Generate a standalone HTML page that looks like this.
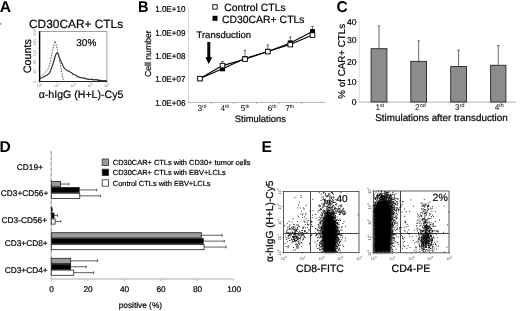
<!DOCTYPE html>
<html><head><meta charset="utf-8"><style>
html,body{margin:0;padding:0;background:#fff;}
body{width:520px;height:311px;overflow:hidden;}
svg{display:block;font-family:"Liberation Sans", sans-serif;filter:grayscale(1);text-rendering:geometricPrecision;}
</style></head><body>
<svg width="520" height="311" viewBox="0 0 520 311">
<defs><filter id="bl" x="-5%" y="-5%" width="110%" height="110%"><feGaussianBlur stdDeviation="0.35"/></filter><filter id="bl2" x="-30%" y="-10%" width="160%" height="120%"><feGaussianBlur stdDeviation="0.9"/></filter></defs>
<rect width="520" height="311" fill="#fff"/>
<text x="-0.3" y="12.35" font-size="15.6" text-anchor="start" font-weight="bold" fill="#000" stroke="#000" stroke-width="0" >A</text>
<text x="138.0" y="11.9" font-size="15.6" text-anchor="start" font-weight="bold" fill="#000" stroke="#000" stroke-width="0" textLength="10.5" lengthAdjust="spacingAndGlyphs">B</text>
<text x="336.6" y="12.3" font-size="15.6" text-anchor="start" font-weight="bold" fill="#000" stroke="#000" stroke-width="0" >C</text>
<text x="-0.5" y="151.5" font-size="15.6" text-anchor="start" font-weight="bold" fill="#000" stroke="#000" stroke-width="0" >D</text>
<text x="261.6" y="151.5" font-size="15.6" text-anchor="start" font-weight="bold" fill="#000" stroke="#000" stroke-width="0" >E</text>
<circle cx="0.6" cy="23.8" r="1.1" fill="#aaa"/>
<text x="29" y="27.6" font-size="11.9" text-anchor="start" font-weight="normal" fill="#000" stroke="#000" stroke-width="0.2" >CD30CAR+ CTLs</text>
<rect x="39.6" y="31.6" width="67.3" height="49.9" fill="none" stroke="#8a8a8a" stroke-width="0.8"/>
<line x1="39.6" y1="31.2" x2="39.6" y2="81.8" stroke="#000" stroke-width="1.4" />
<line x1="39.2" y1="81.5" x2="107" y2="81.5" stroke="#222" stroke-width="1" />
<text transform="translate(36.3,81.8) rotate(-90)" font-size="3.6" text-anchor="middle" fill="#777">0</text>
<line x1="38.2" y1="81.8" x2="39.6" y2="81.8" stroke="#777" stroke-width="0.6" />
<text transform="translate(36.3,71.5) rotate(-90)" font-size="3.6" text-anchor="middle" fill="#777">40</text>
<line x1="38.2" y1="71.5" x2="39.6" y2="71.5" stroke="#777" stroke-width="0.6" />
<text transform="translate(36.3,61.9) rotate(-90)" font-size="3.6" text-anchor="middle" fill="#777">80</text>
<line x1="38.2" y1="61.9" x2="39.6" y2="61.9" stroke="#777" stroke-width="0.6" />
<text transform="translate(36.3,53.2) rotate(-90)" font-size="3.6" text-anchor="middle" fill="#777">120</text>
<line x1="38.2" y1="53.2" x2="39.6" y2="53.2" stroke="#777" stroke-width="0.6" />
<text transform="translate(36.3,42.6) rotate(-90)" font-size="3.6" text-anchor="middle" fill="#777">160</text>
<line x1="38.2" y1="42.6" x2="39.6" y2="42.6" stroke="#777" stroke-width="0.6" />
<text transform="translate(36.3,32.4) rotate(-90)" font-size="3.6" text-anchor="middle" fill="#777">200</text>
<line x1="38.2" y1="32.4" x2="39.6" y2="32.4" stroke="#777" stroke-width="0.6" />
<line x1="39.6" y1="81.5" x2="39.6" y2="83" stroke="#777" stroke-width="0.6" />
<line x1="56.4" y1="81.5" x2="56.4" y2="83" stroke="#777" stroke-width="0.6" />
<line x1="73.2" y1="81.5" x2="73.2" y2="83" stroke="#777" stroke-width="0.6" />
<line x1="90" y1="81.5" x2="90" y2="83" stroke="#777" stroke-width="0.6" />
<line x1="106.8" y1="81.5" x2="106.8" y2="83" stroke="#777" stroke-width="0.6" />
<text x="39.6" y="86.8" font-size="3.6" text-anchor="middle" fill="#777">10<tspan font-size="2.6" dy="-1.4">0</tspan></text>
<text x="56.4" y="86.8" font-size="3.6" text-anchor="middle" fill="#777">10<tspan font-size="2.6" dy="-1.4">1</tspan></text>
<text x="73.2" y="86.8" font-size="3.6" text-anchor="middle" fill="#777">10<tspan font-size="2.6" dy="-1.4">2</tspan></text>
<text x="90" y="86.8" font-size="3.6" text-anchor="middle" fill="#777">10<tspan font-size="2.6" dy="-1.4">3</tspan></text>
<text x="106.8" y="86.8" font-size="3.6" text-anchor="middle" fill="#777">10<tspan font-size="2.6" dy="-1.4">4</tspan></text>
<text x="76.3" y="46" font-size="10" text-anchor="start" font-weight="normal" fill="#000" stroke="#000" stroke-width="0.2" >30%</text>
<text transform="translate(30.8,73.3) rotate(-90)" font-size="10.8" text-anchor="start" fill="#000" stroke="#000" stroke-width="0.2">Counts</text>
<text x="38.7" y="98" font-size="10.6" text-anchor="start" font-weight="normal" fill="#000" stroke="#000" stroke-width="0.2" >&#945;-hIgG (H+L)-Cy5</text>
<polyline points="39.80,78.80 40.90,77.99 42.00,77.80 43.00,77.25 44.00,76.60 45.00,75.94 46.00,75.60 47.00,75.07 48.00,74.30 49.50,72.80 51.00,69.50 52.50,65.50 54.00,60.50 55.50,55.50 56.50,53.00 57.30,52.80 58.20,54.50 59.30,57.50 60.60,60.60 62.00,63.50 63.40,66.80 64.60,68.60 66.00,69.60 67.00,70.40 68.00,70.90 69.25,71.08 70.50,72.30 71.60,72.45 72.70,74.17 73.80,74.50 74.87,74.71 75.93,75.18 77.00,76.00 78.00,76.99 79.00,76.76 80.00,77.60 81.00,77.60 82.00,77.77 83.00,78.17 84.00,77.78 85.00,78.56 86.00,78.60 87.00,79.20 88.00,78.95 89.00,79.37 90.00,79.45 91.00,79.40 92.00,78.98 93.00,79.91 94.00,79.81 95.00,79.56 96.00,79.90 97.00,79.42 98.00,80.50 99.00,80.11 100.00,80.48 101.00,80.30 101.97,80.80 102.93,80.66 103.90,80.96 104.87,80.37 105.83,80.91 106.80,80.60" fill="none" stroke="#2a2a2a" stroke-width="1.15" stroke-linejoin="round"/>
<polyline points="39.8,76.5 42,75.3 44,73.6 46,71.5 48.3,68.5 49.8,63.5 51.2,57 52.6,50.5 54,44.5 55.1,41.1 56.2,44.5 57.5,50.5 59,57 60.2,63.5 61.2,69 62.3,74.5 63.3,80.5" fill="none" stroke="#444" stroke-width="0.9" stroke-dasharray="1.5,1.2"/>
<rect x="212.8" y="4.7" width="4.4" height="4.4" fill="#fff" stroke="#000" stroke-width="0.9"/>
<text x="224.2" y="11.1" font-size="10.45" text-anchor="start" font-weight="normal" fill="#000" stroke="#000" stroke-width="0.2" >Control CTLs</text>
<rect x="212.5" y="15.8" width="5" height="5" fill="#000" stroke="none" stroke-width="1"/>
<text x="221.9" y="22.5" font-size="10.45" text-anchor="start" font-weight="normal" fill="#000" stroke="#000" stroke-width="0.2" >CD30CAR+ CTLs</text>
<text x="185.4" y="12.1" font-size="8.5" text-anchor="end" font-weight="normal" fill="#000" stroke="#000" stroke-width="0.2" textLength="30.2" lengthAdjust="spacingAndGlyphs">1.0E+10</text>
<text x="185.4" y="35.6" font-size="8.5" text-anchor="end" font-weight="normal" fill="#000" stroke="#000" stroke-width="0.2" textLength="30.2" lengthAdjust="spacingAndGlyphs">1.0E+09</text>
<text x="185.4" y="59.3" font-size="8.5" text-anchor="end" font-weight="normal" fill="#000" stroke="#000" stroke-width="0.2" textLength="30.2" lengthAdjust="spacingAndGlyphs">1.0E+08</text>
<text x="185.4" y="81.7" font-size="8.5" text-anchor="end" font-weight="normal" fill="#000" stroke="#000" stroke-width="0.2" textLength="30.2" lengthAdjust="spacingAndGlyphs">1.0E+07</text>
<text x="185.4" y="106.1" font-size="8.5" text-anchor="end" font-weight="normal" fill="#000" stroke="#000" stroke-width="0.2" textLength="30.2" lengthAdjust="spacingAndGlyphs">1.0E+06</text>
<line x1="188.6" y1="7.5" x2="188.6" y2="102.4" stroke="#d6d6d6" stroke-width="1" />
<line x1="188.1" y1="102.4" x2="325" y2="102.4" stroke="#b0b0b0" stroke-width="1" />
<line x1="187" y1="8.0" x2="188.6" y2="8.0" stroke="#ddd" stroke-width="0.8" />
<line x1="187" y1="31.6" x2="188.6" y2="31.6" stroke="#ddd" stroke-width="0.8" />
<line x1="187" y1="55.2" x2="188.6" y2="55.2" stroke="#ddd" stroke-width="0.8" />
<line x1="187" y1="78.8" x2="188.6" y2="78.8" stroke="#ddd" stroke-width="0.8" />
<line x1="187" y1="102.4" x2="188.6" y2="102.4" stroke="#ddd" stroke-width="0.8" />
<line x1="211.2" y1="102.4" x2="211.2" y2="104" stroke="#aaa" stroke-width="0.8" />
<line x1="233.7" y1="102.4" x2="233.7" y2="104" stroke="#aaa" stroke-width="0.8" />
<line x1="256.4" y1="102.4" x2="256.4" y2="104" stroke="#aaa" stroke-width="0.8" />
<line x1="279" y1="102.4" x2="279" y2="104" stroke="#aaa" stroke-width="0.8" />
<line x1="301.4" y1="102.4" x2="301.4" y2="104" stroke="#aaa" stroke-width="0.8" />
<line x1="222.5" y1="65.6" x2="222.5" y2="61.5" stroke="#444" stroke-width="0.8" />
<line x1="221.2" y1="61.5" x2="223.8" y2="61.5" stroke="#444" stroke-width="0.8" />
<line x1="245" y1="58.6" x2="245" y2="50.4" stroke="#444" stroke-width="0.8" />
<line x1="243.7" y1="50.4" x2="246.3" y2="50.4" stroke="#444" stroke-width="0.8" />
<line x1="267.8" y1="51.4" x2="267.8" y2="45" stroke="#444" stroke-width="0.8" />
<line x1="266.5" y1="45" x2="269.1" y2="45" stroke="#444" stroke-width="0.8" />
<line x1="290.3" y1="42.9" x2="290.3" y2="37" stroke="#444" stroke-width="0.8" />
<line x1="289.0" y1="37" x2="291.6" y2="37" stroke="#444" stroke-width="0.8" />
<line x1="312.5" y1="31.6" x2="312.5" y2="26.4" stroke="#444" stroke-width="0.8" />
<line x1="311.2" y1="26.4" x2="313.8" y2="26.4" stroke="#444" stroke-width="0.8" />
<polyline points="200,78.6 222.5,68.8 245,58.6 267.8,51.4 290.3,42.9 312.5,31.6" fill="none" stroke="#000" stroke-width="1.1"/>
<polyline points="200,78.6 222.5,65.6 245,59.2 267.8,51.6 290.3,44.6 312.5,35.1" fill="none" stroke="#000" stroke-width="1.1"/>
<rect x="197.5" y="76.1" width="5" height="5" fill="#000" stroke="none" stroke-width="1"/>
<rect x="220.0" y="66.3" width="5" height="5" fill="#000" stroke="none" stroke-width="1"/>
<rect x="242.5" y="56.1" width="5" height="5" fill="#000" stroke="none" stroke-width="1"/>
<rect x="265.3" y="48.9" width="5" height="5" fill="#000" stroke="none" stroke-width="1"/>
<rect x="287.8" y="40.4" width="5" height="5" fill="#000" stroke="none" stroke-width="1"/>
<rect x="310.0" y="29.1" width="5" height="5" fill="#000" stroke="none" stroke-width="1"/>
<rect x="197.7" y="76.3" width="4.6" height="4.6" fill="#fff" stroke="#000" stroke-width="0.9"/>
<rect x="220.2" y="63.3" width="4.6" height="4.6" fill="#fff" stroke="#000" stroke-width="0.9"/>
<rect x="242.7" y="56.900000000000006" width="4.6" height="4.6" fill="#fff" stroke="#000" stroke-width="0.9"/>
<rect x="265.5" y="49.300000000000004" width="4.6" height="4.6" fill="#fff" stroke="#000" stroke-width="0.9"/>
<rect x="288.0" y="42.300000000000004" width="4.6" height="4.6" fill="#fff" stroke="#000" stroke-width="0.9"/>
<rect x="310.2" y="32.800000000000004" width="4.6" height="4.6" fill="#fff" stroke="#000" stroke-width="0.9"/>
<polygon points="207.3,42 210.3,42 210.3,57.3 212.2,57.3 208.8,64 205.4,57.3 207.3,57.3" fill="#000"/>
<text x="196.5" y="38.1" font-size="9.5" text-anchor="start" font-weight="normal" fill="#000" stroke="#000" stroke-width="0.2" >Transduction</text>
<text x="197.5" y="110.9" font-size="8.3" fill="#000">3<tspan font-size="5" dy="-3">rd</tspan></text>
<text x="220.6" y="110.9" font-size="8.3" fill="#000">4<tspan font-size="5" dy="-3">th</tspan></text>
<text x="240.8" y="110.9" font-size="8.3" fill="#000">5<tspan font-size="5" dy="-3">th</tspan></text>
<text x="267.7" y="110.9" font-size="8.3" fill="#000">6<tspan font-size="5" dy="-3">th</tspan></text>
<text x="285.2" y="110.9" font-size="8.3" fill="#000">7<tspan font-size="5" dy="-3">th</tspan></text>
<text x="234.8" y="122" font-size="9.4" text-anchor="start" font-weight="normal" fill="#000" stroke="#000" stroke-width="0.2" >Stimulations</text>
<text transform="translate(150.6,77.1) rotate(-90)" font-size="8.7" text-anchor="start" fill="#000" stroke="#000" stroke-width="0.2">Cell number</text>
<line x1="359.3" y1="21.5" x2="359.3" y2="102" stroke="#dcdcdc" stroke-width="1" />
<line x1="358.7" y1="102.1" x2="516" y2="102.1" stroke="#b4b4b4" stroke-width="1" />
<text x="356.6" y="104.8" font-size="8.6" text-anchor="end" font-weight="normal" fill="#000" stroke="#000" stroke-width="0.2" >0</text>
<line x1="357.6" y1="101.8" x2="359.3" y2="101.8" stroke="#ccc" stroke-width="0.8" />
<text x="356.6" y="84.8" font-size="8.6" text-anchor="end" font-weight="normal" fill="#000" stroke="#000" stroke-width="0.2" >10</text>
<line x1="357.6" y1="81.8" x2="359.3" y2="81.8" stroke="#ccc" stroke-width="0.8" />
<text x="356.6" y="64.8" font-size="8.6" text-anchor="end" font-weight="normal" fill="#000" stroke="#000" stroke-width="0.2" >20</text>
<line x1="357.6" y1="61.8" x2="359.3" y2="61.8" stroke="#ccc" stroke-width="0.8" />
<text x="356.6" y="43.3" font-size="8.6" text-anchor="end" font-weight="normal" fill="#000" stroke="#000" stroke-width="0.2" >30</text>
<line x1="357.6" y1="41.8" x2="359.3" y2="41.8" stroke="#ccc" stroke-width="0.8" />
<text x="356.6" y="24.799999999999997" font-size="8.6" text-anchor="end" font-weight="normal" fill="#000" stroke="#000" stroke-width="0.2" >40</text>
<line x1="357.6" y1="21.799999999999997" x2="359.3" y2="21.799999999999997" stroke="#ccc" stroke-width="0.8" />
<line x1="379.0" y1="48.2" x2="379.0" y2="26" stroke="#444" stroke-width="0.8" />
<line x1="377.8" y1="26" x2="380.2" y2="26" stroke="#444" stroke-width="0.8" />
<rect x="371.1" y="48.7" width="15.799999999999955" height="53.3" fill="#8c8c8c" stroke="#333" stroke-width="1"/>
<line x1="418.65" y1="60.9" x2="418.65" y2="40.8" stroke="#444" stroke-width="0.8" />
<line x1="417.45" y1="40.8" x2="419.84999999999997" y2="40.8" stroke="#444" stroke-width="0.8" />
<rect x="410.8" y="61.4" width="15.699999999999989" height="40.6" fill="#8c8c8c" stroke="#333" stroke-width="1"/>
<line x1="458.6" y1="66" x2="458.6" y2="50.1" stroke="#444" stroke-width="0.8" />
<line x1="457.40000000000003" y1="50.1" x2="459.8" y2="50.1" stroke="#444" stroke-width="0.8" />
<rect x="450.7" y="66.5" width="15.800000000000011" height="35.5" fill="#8c8c8c" stroke="#333" stroke-width="1"/>
<line x1="498.25" y1="64.8" x2="498.25" y2="45.5" stroke="#444" stroke-width="0.8" />
<line x1="497.05" y1="45.5" x2="499.45" y2="45.5" stroke="#444" stroke-width="0.8" />
<rect x="490.6" y="65.3" width="15.299999999999955" height="36.7" fill="#8c8c8c" stroke="#333" stroke-width="1"/>
<text x="375.4" y="110.3" font-size="8.3" fill="#000">1<tspan font-size="5.4" dy="-3.1">st</tspan></text>
<text x="415.04999999999995" y="110.3" font-size="8.3" fill="#000">2<tspan font-size="5.4" dy="-3.1">nd</tspan></text>
<text x="455.0" y="110.3" font-size="8.3" fill="#000">3<tspan font-size="5.4" dy="-3.1">rd</tspan></text>
<text x="494.65" y="110.3" font-size="8.3" fill="#000">4<tspan font-size="5.4" dy="-3.1">th</tspan></text>
<text x="375.3" y="120.8" font-size="9.86" text-anchor="start" font-weight="normal" fill="#000" stroke="#000" stroke-width="0.2" >Stimulations after transduction</text>
<text transform="translate(345.2,98.7) rotate(-90)" font-size="9.8" text-anchor="start" fill="#000" stroke="#000" stroke-width="0.2">% of CAR+ CTLs</text>
<line x1="51.2" y1="151" x2="51.2" y2="279" stroke="#d0d0d0" stroke-width="1" />
<line x1="51.2" y1="151" x2="51.2" y2="279" stroke="#999" stroke-width="1" stroke-dasharray="3.5,2"/>
<line x1="51.3" y1="279" x2="233.5" y2="279" stroke="#aaa" stroke-width="1" />
<line x1="51.3" y1="279" x2="51.3" y2="281" stroke="#aaa" stroke-width="0.8" />
<text x="51.599999999999994" y="292" font-size="8.3" text-anchor="middle" font-weight="normal" fill="#000" stroke="#000" stroke-width="0.2" >0</text>
<line x1="87.8" y1="279" x2="87.8" y2="281" stroke="#aaa" stroke-width="0.8" />
<text x="88.1" y="292" font-size="8.3" text-anchor="middle" font-weight="normal" fill="#000" stroke="#000" stroke-width="0.2" >20</text>
<line x1="124.3" y1="279" x2="124.3" y2="281" stroke="#aaa" stroke-width="0.8" />
<text x="124.6" y="292" font-size="8.3" text-anchor="middle" font-weight="normal" fill="#000" stroke="#000" stroke-width="0.2" >40</text>
<line x1="160.8" y1="279" x2="160.8" y2="281" stroke="#aaa" stroke-width="0.8" />
<text x="161.10000000000002" y="292" font-size="8.3" text-anchor="middle" font-weight="normal" fill="#000" stroke="#000" stroke-width="0.2" >60</text>
<line x1="197.3" y1="279" x2="197.3" y2="281" stroke="#aaa" stroke-width="0.8" />
<text x="197.60000000000002" y="292" font-size="8.3" text-anchor="middle" font-weight="normal" fill="#000" stroke="#000" stroke-width="0.2" >80</text>
<line x1="233.8" y1="279" x2="233.8" y2="281" stroke="#aaa" stroke-width="0.8" />
<text x="234.10000000000002" y="292" font-size="8.3" text-anchor="middle" font-weight="normal" fill="#000" stroke="#000" stroke-width="0.2" >100</text>
<text x="118.7" y="307.7" font-size="8.3" text-anchor="start" font-weight="normal" fill="#000" stroke="#000" stroke-width="0.2" >positive (%)</text>
<line x1="60.607499999999995" y1="184.04999999999998" x2="68.82" y2="184.04999999999998" stroke="#333" stroke-width="0.8" />
<line x1="68.82" y1="182.74999999999997" x2="68.82" y2="185.35" stroke="#333" stroke-width="0.8" />
<rect x="51.3" y="181.5" width="9.307499999999997" height="5.2" fill="#9a9a9a" stroke="#222" stroke-width="0.8"/>
<line x1="79.2225" y1="189.95" x2="96.74249999999999" y2="189.95" stroke="#333" stroke-width="0.8" />
<line x1="96.74249999999999" y1="188.64999999999998" x2="96.74249999999999" y2="191.25" stroke="#333" stroke-width="0.8" />
<rect x="51.3" y="187.4" width="27.9225" height="5.2" fill="#000" stroke="#222" stroke-width="0.8"/>
<line x1="79.77" y1="195.85" x2="100.39249999999998" y2="195.85" stroke="#333" stroke-width="0.8" />
<line x1="100.39249999999998" y1="194.54999999999998" x2="100.39249999999998" y2="197.15" stroke="#333" stroke-width="0.8" />
<rect x="51.3" y="193.3" width="28.47" height="5.2" fill="#fff" stroke="#222" stroke-width="0.8"/>
<line x1="51.8475" y1="209.64999999999998" x2="52.394999999999996" y2="209.64999999999998" stroke="#333" stroke-width="0.8" />
<line x1="52.394999999999996" y1="208.34999999999997" x2="52.394999999999996" y2="210.95" stroke="#333" stroke-width="0.8" />
<rect x="51.3" y="207.1" width="0.5474999999999994" height="5.2" fill="#9a9a9a" stroke="#222" stroke-width="0.8"/>
<line x1="54.037499999999994" y1="215.54999999999998" x2="57.504999999999995" y2="215.54999999999998" stroke="#333" stroke-width="0.8" />
<line x1="57.504999999999995" y1="214.24999999999997" x2="57.504999999999995" y2="216.85" stroke="#333" stroke-width="0.8" />
<rect x="51.3" y="213.0" width="2.737499999999997" height="5.2" fill="#000" stroke="#222" stroke-width="0.8"/>
<line x1="55.1325" y1="221.45" x2="60.79" y2="221.45" stroke="#333" stroke-width="0.8" />
<line x1="60.79" y1="220.14999999999998" x2="60.79" y2="222.75" stroke="#333" stroke-width="0.8" />
<rect x="51.3" y="218.9" width="3.832500000000003" height="5.2" fill="#fff" stroke="#222" stroke-width="0.8"/>
<line x1="201.315" y1="235.25" x2="222.12" y2="235.25" stroke="#333" stroke-width="0.8" />
<line x1="222.12" y1="233.95" x2="222.12" y2="236.55" stroke="#333" stroke-width="0.8" />
<rect x="51.3" y="232.70000000000002" width="150.015" height="5.2" fill="#9a9a9a" stroke="#222" stroke-width="0.8"/>
<line x1="203.3225" y1="241.15" x2="224.31" y2="241.15" stroke="#333" stroke-width="0.8" />
<line x1="224.31" y1="239.85" x2="224.31" y2="242.45000000000002" stroke="#333" stroke-width="0.8" />
<rect x="51.3" y="238.60000000000002" width="152.02249999999998" height="5.2" fill="#000" stroke="#222" stroke-width="0.8"/>
<line x1="204.0525" y1="247.05" x2="226.135" y2="247.05" stroke="#333" stroke-width="0.8" />
<line x1="226.135" y1="245.75" x2="226.135" y2="248.35000000000002" stroke="#333" stroke-width="0.8" />
<rect x="51.3" y="244.50000000000003" width="152.7525" height="5.2" fill="#fff" stroke="#222" stroke-width="0.8"/>
<line x1="70.645" y1="260.84999999999997" x2="97.4725" y2="260.84999999999997" stroke="#333" stroke-width="0.8" />
<line x1="97.4725" y1="259.54999999999995" x2="97.4725" y2="262.15" stroke="#333" stroke-width="0.8" />
<rect x="51.3" y="258.29999999999995" width="19.345" height="5.2" fill="#9a9a9a" stroke="#222" stroke-width="0.8"/>
<line x1="70.645" y1="266.74999999999994" x2="86.1575" y2="266.74999999999994" stroke="#333" stroke-width="0.8" />
<line x1="86.1575" y1="265.44999999999993" x2="86.1575" y2="268.04999999999995" stroke="#333" stroke-width="0.8" />
<rect x="51.3" y="264.19999999999993" width="19.345" height="5.2" fill="#000" stroke="#222" stroke-width="0.8"/>
<line x1="73.7475" y1="272.65" x2="93.63999999999999" y2="272.65" stroke="#333" stroke-width="0.8" />
<line x1="93.63999999999999" y1="271.34999999999997" x2="93.63999999999999" y2="273.95" stroke="#333" stroke-width="0.8" />
<rect x="51.3" y="270.09999999999997" width="22.447500000000005" height="5.2" fill="#fff" stroke="#222" stroke-width="0.8"/>
<text x="42.9" y="170.1" font-size="8.3" text-anchor="end" font-weight="normal" fill="#000" stroke="#000" stroke-width="0.2" >CD19+</text>
<text x="48.3" y="195.7" font-size="8.3" text-anchor="end" font-weight="normal" fill="#000" stroke="#000" stroke-width="0.2" >CD3+CD56+</text>
<text x="47" y="223.4" font-size="8.3" text-anchor="end" font-weight="normal" fill="#000" stroke="#000" stroke-width="0.2" >CD3-CD56+</text>
<text x="47.6" y="245.5" font-size="8.3" text-anchor="end" font-weight="normal" fill="#000" stroke="#000" stroke-width="0.2" >CD3+CD8+</text>
<text x="47.6" y="272.9" font-size="8.3" text-anchor="end" font-weight="normal" fill="#000" stroke="#000" stroke-width="0.2" >CD3+CD4+</text>
<rect x="102.2" y="159.0" width="6.4" height="6.4" fill="#9a9a9a" stroke="#333" stroke-width="0.8"/>
<text x="112.8" y="164.89999999999998" font-size="7.45" text-anchor="start" font-weight="normal" fill="#000" stroke="#000" stroke-width="0.2" >CD30CAR+ CTLs with CD30+ tumor cells</text>
<rect x="102.2" y="169.20000000000002" width="6.4" height="6.4" fill="#000" stroke="#333" stroke-width="0.8"/>
<text x="112.8" y="175.1" font-size="7.45" text-anchor="start" font-weight="normal" fill="#000" stroke="#000" stroke-width="0.2" >CD30CAR+ CTLs with EBV+LCLs</text>
<rect x="102.2" y="179.8" width="6.4" height="6.4" fill="#fff" stroke="#333" stroke-width="0.8"/>
<text x="112.8" y="185.7" font-size="7.45" text-anchor="start" font-weight="normal" fill="#000" stroke="#000" stroke-width="0.2" >Control CTLs with EBV+LCLs</text>
<line x1="310.5" y1="191.5" x2="310.5" y2="252.5" stroke="#333" stroke-width="0.9" />
<line x1="283.5" y1="233.5" x2="359" y2="233.5" stroke="#333" stroke-width="0.9" />
<line x1="400.5" y1="191" x2="400.5" y2="252.8" stroke="#333" stroke-width="0.9" />
<line x1="373.5" y1="233.5" x2="449" y2="233.5" stroke="#333" stroke-width="0.9" />
<path filter="url(#bl2)" d="M329,210.5 C332.5,211.5 335,218 336.2,226 C337,234 336.3,245 335.5,252.5 L323.5,252.5 C322.5,245 321.8,234 322.3,226 C323.2,218 325.5,211.5 329,210.5 Z" fill="#000"/>
<path d="M328.0 239.6h0.9M328.1 230.5h0.9M324.5 231.7h0.9M335.1 238.7h0.9M334.7 236.7h0.9M331.4 236.0h0.9M320.6 243.4h0.9M331.9 239.5h0.9M320.5 214.8h0.9M324.7 228.8h0.9M330.9 233.5h0.9M332.0 226.9h0.9M330.9 238.3h0.9M332.2 247.2h0.9M326.1 225.9h0.9M327.5 232.8h0.9M332.6 236.7h0.9M327.0 223.5h0.9M326.6 247.4h0.9M325.1 236.7h0.9M331.5 217.6h0.9M329.6 248.4h0.9M318.8 230.5h0.9M328.7 225.0h0.9M331.9 233.3h0.9M321.7 243.1h0.9M332.8 244.4h0.9M336.8 238.0h0.9M329.9 219.7h0.9M332.5 227.3h0.9M326.9 220.1h0.9M324.3 228.2h0.9M336.0 211.7h0.9M321.7 236.6h0.9M336.8 240.4h0.9M319.4 206.3h0.9M331.2 225.9h0.9M323.5 244.8h0.9M335.0 235.7h0.9M330.6 238.8h0.9M337.6 240.8h0.9M332.0 240.0h0.9M321.1 248.1h0.9M334.3 239.8h0.9M319.0 227.0h0.9M333.7 214.1h0.9M328.3 245.2h0.9M322.5 251.7h0.9M332.2 232.3h0.9M331.0 241.1h0.9M329.9 246.6h0.9M325.9 229.4h0.9M334.7 234.3h0.9M324.7 244.4h0.9M336.9 229.1h0.9M322.1 232.5h0.9M328.5 230.7h0.9M336.6 222.7h0.9M335.9 220.0h0.9M325.2 240.9h0.9M335.2 243.4h0.9M331.1 235.6h0.9M330.1 240.3h0.9M328.4 237.1h0.9M332.3 234.0h0.9M333.3 240.2h0.9M339.8 237.6h0.9M327.1 229.9h0.9M329.2 244.2h0.9M327.5 238.2h0.9M338.9 205.8h0.9M323.5 236.7h0.9M331.4 236.6h0.9M327.1 241.2h0.9M330.8 228.3h0.9M341.9 237.9h0.9M326.4 232.9h0.9M328.1 233.3h0.9M315.1 228.6h0.9M334.5 221.1h0.9M329.0 244.5h0.9M333.8 250.4h0.9M320.5 230.1h0.9M327.5 240.9h0.9M335.0 204.5h0.9M335.0 218.1h0.9M332.9 217.6h0.9M330.2 247.1h0.9M328.5 236.1h0.9M333.4 235.6h0.9M328.8 250.9h0.9M334.8 230.8h0.9M343.6 221.4h0.9M334.1 231.1h0.9M330.0 241.8h0.9M330.5 241.0h0.9M321.4 217.4h0.9M332.5 223.4h0.9M324.0 217.8h0.9M335.9 242.2h0.9M337.0 223.7h0.9M329.3 221.5h0.9M333.3 251.5h0.9M324.7 251.2h0.9M334.4 232.0h0.9M319.0 249.5h0.9M328.8 227.4h0.9M331.4 238.5h0.9M337.1 222.8h0.9M335.2 250.4h0.9M336.9 232.0h0.9M325.4 245.2h0.9M329.9 235.4h0.9M336.7 231.1h0.9M317.4 229.7h0.9M319.7 243.0h0.9M330.9 227.3h0.9M329.3 243.2h0.9M329.7 248.6h0.9M329.0 245.4h0.9M337.1 251.7h0.9M325.8 243.7h0.9M319.5 222.1h0.9M319.1 245.8h0.9M322.9 233.9h0.9M328.3 233.7h0.9M326.2 236.6h0.9M338.6 234.5h0.9M332.1 245.0h0.9M328.3 220.1h0.9M326.4 245.8h0.9M320.7 227.4h0.9M334.5 242.7h0.9M329.3 242.9h0.9M330.2 221.0h0.9M321.2 227.0h0.9M334.1 227.8h0.9M324.6 225.5h0.9M321.3 232.7h0.9M323.2 238.0h0.9M317.0 237.6h0.9M326.0 212.6h0.9M333.1 231.0h0.9M317.7 224.4h0.9M330.8 229.0h0.9M333.4 242.2h0.9M332.8 237.6h0.9M336.2 241.3h0.9M331.6 211.1h0.9M334.0 248.4h0.9M327.8 228.8h0.9M339.4 214.7h0.9M324.5 241.6h0.9M339.1 232.7h0.9M332.2 243.9h0.9M324.6 233.0h0.9M330.8 243.1h0.9M329.1 231.9h0.9M324.0 230.1h0.9M333.9 235.1h0.9M324.9 224.7h0.9M343.2 246.5h0.9M332.6 205.5h0.9M332.5 239.3h0.9M338.1 238.7h0.9M328.9 239.7h0.9M319.2 245.4h0.9M331.0 226.3h0.9M322.0 226.7h0.9M330.8 236.0h0.9M327.2 223.3h0.9M340.3 245.4h0.9M323.1 219.2h0.9M338.2 244.9h0.9M338.8 242.9h0.9M324.8 236.9h0.9M318.1 225.8h0.9M329.0 239.8h0.9M325.5 232.6h0.9M331.7 238.1h0.9M332.6 236.3h0.9M327.6 242.7h0.9M329.6 224.9h0.9M326.0 234.0h0.9M328.7 235.7h0.9M329.3 235.9h0.9M328.6 220.2h0.9M331.5 245.6h0.9M331.6 231.9h0.9M331.6 223.4h0.9M319.4 234.7h0.9M324.5 242.1h0.9M323.7 205.1h0.9M323.9 251.4h0.9M327.3 218.9h0.9M325.3 239.7h0.9M331.9 235.9h0.9M337.0 241.8h0.9M329.2 240.6h0.9M337.9 244.7h0.9M334.6 222.1h0.9M328.5 242.0h0.9M327.8 245.8h0.9M332.4 244.0h0.9M335.7 231.6h0.9M327.5 243.6h0.9M334.4 234.1h0.9M323.2 236.1h0.9M331.2 246.4h0.9M333.4 234.3h0.9M333.7 239.9h0.9M330.4 234.6h0.9M328.0 241.5h0.9M323.8 227.1h0.9M329.3 217.9h0.9M327.0 211.9h0.9M325.7 240.3h0.9M332.2 233.4h0.9M328.1 218.4h0.9M338.8 239.7h0.9M335.0 224.3h0.9M328.3 214.0h0.9M333.4 244.3h0.9M319.4 233.4h0.9M332.6 214.6h0.9M319.8 222.3h0.9M326.0 218.6h0.9M329.5 236.7h0.9M332.6 241.7h0.9M337.1 246.8h0.9M322.5 228.4h0.9M323.8 222.2h0.9M328.9 234.1h0.9M331.8 216.5h0.9M322.9 233.7h0.9M328.3 230.6h0.9M329.0 225.6h0.9M332.9 237.9h0.9M328.8 226.6h0.9M328.4 204.1h0.9M324.2 234.4h0.9M321.5 236.2h0.9M330.1 218.8h0.9M328.0 230.5h0.9M331.7 240.7h0.9M329.1 224.6h0.9M328.5 233.3h0.9M333.1 237.2h0.9M325.5 219.1h0.9M327.4 225.9h0.9M323.5 232.7h0.9M326.7 235.2h0.9M332.0 229.5h0.9M341.4 230.5h0.9M335.0 235.3h0.9M335.1 207.9h0.9M325.4 236.7h0.9M331.0 248.1h0.9M333.3 244.4h0.9M332.0 232.3h0.9M331.9 222.1h0.9M335.4 222.8h0.9M328.1 234.2h0.9M335.3 234.3h0.9M325.1 236.8h0.9M332.3 241.8h0.9M338.0 234.2h0.9M330.7 229.3h0.9M336.7 226.2h0.9M332.8 228.7h0.9M325.7 241.9h0.9M336.2 233.9h0.9M325.8 242.9h0.9M329.0 237.4h0.9M337.2 246.4h0.9M329.3 242.6h0.9M325.9 233.5h0.9M336.4 220.6h0.9M321.5 216.2h0.9M335.4 228.9h0.9M329.0 230.6h0.9M328.7 222.0h0.9M329.4 218.2h0.9M328.9 237.4h0.9M331.7 231.5h0.9M324.6 235.8h0.9M326.8 251.2h0.9M333.3 232.7h0.9M326.9 226.3h0.9M324.4 230.1h0.9M330.8 239.7h0.9M325.6 234.1h0.9M343.8 213.5h0.9M326.6 235.9h0.9M330.1 238.5h0.9M328.1 238.0h0.9M329.6 242.5h0.9M319.5 224.3h0.9M329.3 222.6h0.9M323.9 240.9h0.9M325.9 241.0h0.9M333.2 237.4h0.9M331.9 232.8h0.9M322.0 233.7h0.9M331.7 228.2h0.9M328.8 242.2h0.9M324.7 241.0h0.9M339.0 227.9h0.9M330.1 232.3h0.9M337.3 237.5h0.9M334.0 226.4h0.9M329.2 233.9h0.9M320.1 249.8h0.9M334.0 214.8h0.9M333.2 232.6h0.9M331.6 238.0h0.9M321.5 231.7h0.9M337.1 227.7h0.9M324.0 219.0h0.9M323.0 237.7h0.9M338.1 238.7h0.9M326.6 226.6h0.9M332.0 240.0h0.9M324.0 221.1h0.9M330.8 236.7h0.9M322.5 231.8h0.9M326.5 239.1h0.9M328.7 233.1h0.9M327.5 245.6h0.9M336.5 230.0h0.9M333.7 225.7h0.9M329.7 242.2h0.9M337.2 229.8h0.9M328.9 236.2h0.9M321.5 234.2h0.9M325.8 238.1h0.9M323.4 212.3h0.9M329.5 236.9h0.9M326.4 243.8h0.9M327.9 227.3h0.9M331.8 216.7h0.9M325.8 233.8h0.9M333.7 232.2h0.9M330.9 226.8h0.9M330.9 252.3h0.9M326.0 234.2h0.9M330.2 245.3h0.9M322.9 210.9h0.9M332.5 242.7h0.9M330.4 236.8h0.9M334.1 238.1h0.9M338.0 220.4h0.9M327.3 196.1h0.9M333.5 229.9h0.9M329.3 231.2h0.9M326.7 224.8h0.9M326.0 241.0h0.9M329.5 234.7h0.9M328.4 244.1h0.9M331.9 232.4h0.9M332.8 232.3h0.9M323.3 250.0h0.9M331.7 223.5h0.9M334.9 237.8h0.9M321.2 251.7h0.9M331.0 243.8h0.9M330.3 232.4h0.9M321.2 244.7h0.9M329.5 230.8h0.9M331.1 234.9h0.9M332.8 229.9h0.9M329.1 210.5h0.9M327.1 241.4h0.9M336.3 230.0h0.9M328.7 251.4h0.9M327.6 242.1h0.9M338.0 234.4h0.9M335.7 226.2h0.9M330.4 233.1h0.9M329.9 246.4h0.9M341.7 226.7h0.9M326.3 239.5h0.9M323.8 239.5h0.9M332.3 230.9h0.9M332.1 217.0h0.9M333.3 217.0h0.9M325.7 227.9h0.9M327.2 243.4h0.9M329.7 229.6h0.9M332.1 251.4h0.9M329.3 238.0h0.9M335.7 236.9h0.9M340.8 212.2h0.9M329.1 238.6h0.9M334.3 241.4h0.9M327.9 222.4h0.9M329.8 245.4h0.9M323.6 222.7h0.9M329.2 212.7h0.9M327.9 229.2h0.9M331.6 226.3h0.9M324.7 229.7h0.9M329.0 226.7h0.9M329.4 242.3h0.9M325.2 229.4h0.9M325.5 233.6h0.9M332.0 219.1h0.9M331.7 233.7h0.9M319.8 237.2h0.9M335.5 213.5h0.9M333.5 236.3h0.9M331.8 238.9h0.9M336.1 231.5h0.9M333.8 229.5h0.9M333.1 225.0h0.9M331.6 232.3h0.9M323.3 225.3h0.9M330.3 244.3h0.9M331.5 239.8h0.9M329.1 248.9h0.9M327.3 228.0h0.9M333.9 234.7h0.9M327.9 227.7h0.9M328.0 240.9h0.9M331.1 220.7h0.9M331.5 236.0h0.9M324.1 242.5h0.9M327.8 230.3h0.9M333.4 248.5h0.9M325.7 238.8h0.9M326.7 247.1h0.9M325.9 242.9h0.9M340.8 206.0h0.9M327.0 239.5h0.9M328.8 226.6h0.9M340.5 234.9h0.9M320.7 243.4h0.9M320.3 246.7h0.9M326.3 235.6h0.9M335.9 235.3h0.9M322.1 215.3h0.9M335.4 242.1h0.9M325.1 243.5h0.9M331.9 241.1h0.9M317.6 230.7h0.9M334.0 242.1h0.9M333.9 207.0h0.9M330.2 239.4h0.9M342.6 223.5h0.9M327.6 234.4h0.9M333.9 229.1h0.9M335.3 225.3h0.9M330.7 228.2h0.9M330.1 226.4h0.9M321.0 246.0h0.9M330.9 227.9h0.9M330.3 244.9h0.9M324.2 232.8h0.9M332.1 239.8h0.9M327.6 210.8h0.9M335.8 237.6h0.9M329.4 230.9h0.9M330.7 229.3h0.9M324.0 225.9h0.9M326.2 227.3h0.9M323.3 241.0h0.9M322.5 241.3h0.9M324.0 237.9h0.9M336.4 236.2h0.9M325.5 234.5h0.9M330.1 214.9h0.9M326.1 235.8h0.9M326.9 234.9h0.9M333.1 242.4h0.9M334.0 240.5h0.9M327.8 233.8h0.9M327.9 230.6h0.9M328.4 215.0h0.9M327.6 233.7h0.9M324.2 233.7h0.9M332.0 232.2h0.9M340.1 205.3h0.9M328.2 213.9h0.9M316.3 235.4h0.9M332.0 230.7h0.9M332.2 209.3h0.9M333.7 238.1h0.9M329.4 227.5h0.9M332.6 228.7h0.9M330.5 228.4h0.9M317.6 233.7h0.9M330.4 242.3h0.9M324.7 233.6h0.9M332.5 235.6h0.9M324.6 212.9h0.9M333.8 250.8h0.9M334.1 243.0h0.9M326.1 226.2h0.9M333.9 224.0h0.9M319.9 223.0h0.9M325.7 226.0h0.9M330.5 225.8h0.9M336.1 233.1h0.9M323.7 248.4h0.9M326.3 236.4h0.9M329.2 230.5h0.9M331.0 226.4h0.9M319.7 209.7h0.9M322.7 225.7h0.9M329.2 234.6h0.9M332.2 235.3h0.9M325.2 226.2h0.9M318.3 232.1h0.9M331.8 239.8h0.9M328.7 232.1h0.9M334.2 234.2h0.9M333.1 240.4h0.9M330.4 248.4h0.9M326.3 230.1h0.9M325.1 225.2h0.9M329.4 240.3h0.9M335.4 242.9h0.9M335.6 220.1h0.9M326.0 239.0h0.9M336.8 235.1h0.9M324.8 230.1h0.9M325.9 224.6h0.9M337.1 227.1h0.9M335.5 237.7h0.9M326.1 238.5h0.9M337.7 240.9h0.9M335.9 235.1h0.9M332.0 231.8h0.9M331.5 248.3h0.9M321.9 233.3h0.9M330.5 227.7h0.9M327.7 242.7h0.9M339.7 240.9h0.9M331.0 216.9h0.9M339.3 234.8h0.9M329.1 221.7h0.9M329.0 221.9h0.9M329.7 239.1h0.9M329.5 237.1h0.9M324.9 249.7h0.9M325.9 214.0h0.9M328.3 225.6h0.9M324.0 230.1h0.9M330.8 221.0h0.9M328.6 249.7h0.9M332.9 232.3h0.9M330.0 232.7h0.9M329.1 242.1h0.9M328.8 207.6h0.9M329.2 224.2h0.9M332.7 227.3h0.9M323.9 221.6h0.9M322.0 207.7h0.9M319.5 238.0h0.9M326.0 213.5h0.9M321.6 240.8h0.9M325.3 230.0h0.9M331.0 248.9h0.9M339.4 245.4h0.9M330.0 236.0h0.9M338.7 249.7h0.9M327.7 239.0h0.9M330.8 234.6h0.9M326.7 219.4h0.9M326.5 217.0h0.9M335.7 239.9h0.9M323.0 249.4h0.9M333.9 213.0h0.9M338.9 242.9h0.9M340.0 220.5h0.9M332.1 238.7h0.9M330.3 235.9h0.9M334.8 217.6h0.9M322.8 218.7h0.9M326.4 227.3h0.9M331.2 236.9h0.9M329.5 226.6h0.9M327.0 244.5h0.9M333.3 235.1h0.9M327.6 251.1h0.9M326.2 241.1h0.9M335.3 231.1h0.9M333.6 221.7h0.9M334.6 236.2h0.9M321.0 241.4h0.9M324.7 248.1h0.9M325.8 232.2h0.9M330.8 230.3h0.9M330.6 227.9h0.9M332.8 234.1h0.9M330.4 203.7h0.9M335.3 234.4h0.9M320.0 235.1h0.9M331.7 245.8h0.9M323.7 251.0h0.9M328.5 241.5h0.9M327.4 221.7h0.9M335.0 244.0h0.9M337.3 243.4h0.9M326.3 215.7h0.9M325.9 226.6h0.9M325.1 240.4h0.9M331.0 231.0h0.9M330.2 232.4h0.9M330.4 242.3h0.9M334.3 226.5h0.9M321.5 249.7h0.9M329.9 246.2h0.9M320.8 230.4h0.9M329.4 218.1h0.9M326.6 242.0h0.9M334.9 251.5h0.9M324.8 218.6h0.9M332.0 244.3h0.9M330.3 219.7h0.9M333.4 242.7h0.9M332.2 228.6h0.9M330.9 242.7h0.9M326.4 213.7h0.9M331.0 239.3h0.9M329.4 243.8h0.9M326.2 233.1h0.9M327.7 240.3h0.9M337.6 231.2h0.9M340.0 250.8h0.9M333.4 240.5h0.9M338.5 232.0h0.9M328.7 222.3h0.9M331.8 248.8h0.9M332.1 238.7h0.9M328.3 235.9h0.9M321.9 245.5h0.9M327.2 221.8h0.9M325.4 224.9h0.9M333.7 245.6h0.9M322.2 244.2h0.9M333.9 227.6h0.9M321.6 225.8h0.9M326.0 237.8h0.9M327.4 211.7h0.9M330.5 217.1h0.9M334.0 220.7h0.9M325.7 224.6h0.9M326.5 248.3h0.9M333.7 240.6h0.9M331.0 217.0h0.9M326.6 227.9h0.9M324.2 239.6h0.9M325.4 226.2h0.9M323.9 211.4h0.9M332.4 248.6h0.9M330.2 223.3h0.9M315.2 235.9h0.9M335.6 237.3h0.9M334.1 250.3h0.9M335.2 229.1h0.9M334.8 242.5h0.9M321.3 229.5h0.9M321.9 232.8h0.9M332.3 222.3h0.9M318.6 248.3h0.9M331.3 250.2h0.9M322.4 245.7h0.9M328.2 237.0h0.9M328.5 245.0h0.9M334.7 235.0h0.9M322.2 242.2h0.9M326.9 240.9h0.9M330.7 251.9h0.9M335.2 229.0h0.9M326.5 238.8h0.9M335.5 247.8h0.9M332.0 219.5h0.9M322.7 236.7h0.9M324.8 246.5h0.9M333.3 215.6h0.9M325.0 235.8h0.9M326.7 232.3h0.9M331.7 225.1h0.9M331.7 227.0h0.9M326.5 239.9h0.9M326.3 237.2h0.9M337.6 234.3h0.9M328.5 242.1h0.9M327.4 245.9h0.9M322.6 240.8h0.9M326.6 225.2h0.9M338.5 224.6h0.9M338.4 241.2h0.9M336.9 223.3h0.9M335.5 250.0h0.9M328.7 232.6h0.9M342.1 236.0h0.9M327.1 227.1h0.9M331.6 237.6h0.9M327.6 239.2h0.9M336.9 223.0h0.9M322.3 221.9h0.9M323.9 213.7h0.9M331.7 213.6h0.9M331.9 250.0h0.9M320.9 230.5h0.9M319.3 242.6h0.9M325.5 231.1h0.9M329.6 240.0h0.9M327.5 234.2h0.9M326.5 235.3h0.9M323.2 234.7h0.9M319.3 228.6h0.9M339.3 234.9h0.9M322.7 236.8h0.9M324.2 215.8h0.9M325.5 242.1h0.9M331.3 232.9h0.9M324.5 222.1h0.9M336.3 236.7h0.9M324.4 210.8h0.9M323.3 233.2h0.9M330.4 232.3h0.9M327.9 218.9h0.9M325.4 243.3h0.9M320.5 231.0h0.9M330.7 245.4h0.9M323.5 240.5h0.9M331.3 225.9h0.9M331.8 224.1h0.9M325.2 233.8h0.9M315.2 232.8h0.9M324.1 217.9h0.9M327.1 242.4h0.9M327.2 247.9h0.9M323.3 219.6h0.9M337.4 238.4h0.9M334.2 224.9h0.9M333.5 236.9h0.9M332.7 234.3h0.9M335.6 226.9h0.9M324.3 217.7h0.9M335.3 225.9h0.9M323.9 223.7h0.9M327.0 220.0h0.9M327.8 227.1h0.9M326.4 223.4h0.9M329.5 228.9h0.9M329.9 236.7h0.9M331.1 209.9h0.9M326.5 225.2h0.9M333.3 216.6h0.9M325.6 230.8h0.9M327.6 244.9h0.9M327.0 244.6h0.9M321.7 214.1h0.9M335.6 238.8h0.9M331.8 235.4h0.9M331.8 220.6h0.9M334.2 228.1h0.9M334.4 235.0h0.9M319.0 219.8h0.9M335.2 232.5h0.9M327.2 236.7h0.9M327.1 228.0h0.9M329.8 235.6h0.9M337.2 234.5h0.9M338.2 245.7h0.9M330.0 235.5h0.9M328.6 226.0h0.9M329.0 227.0h0.9M337.8 239.9h0.9M327.0 212.9h0.9M329.0 229.4h0.9M323.7 221.5h0.9M317.6 240.3h0.9M329.1 232.4h0.9M336.8 235.5h0.9M330.2 229.9h0.9M326.2 250.5h0.9M327.5 234.3h0.9M324.7 244.6h0.9M322.1 240.2h0.9M335.0 249.5h0.9M324.4 246.0h0.9M325.6 225.7h0.9M322.4 246.7h0.9M337.9 227.5h0.9M325.4 230.3h0.9M342.3 245.0h0.9M326.5 214.3h0.9M325.8 247.1h0.9M339.0 231.1h0.9M325.7 228.4h0.9M319.5 244.0h0.9M323.7 245.7h0.9M320.4 220.0h0.9M330.8 225.6h0.9M333.4 234.1h0.9M323.2 240.8h0.9M333.7 213.0h0.9M338.8 239.5h0.9M333.3 213.5h0.9M325.6 230.2h0.9M334.9 217.9h0.9M324.7 211.7h0.9M328.0 237.8h0.9M320.5 227.5h0.9M332.0 251.4h0.9M332.8 230.7h0.9M323.2 223.7h0.9M325.8 235.6h0.9M329.0 252.3h0.9M330.8 222.2h0.9M337.3 244.4h0.9M329.8 226.1h0.9M319.6 222.8h0.9M334.0 225.2h0.9M322.4 236.2h0.9M330.6 240.7h0.9M332.7 249.5h0.9M324.9 244.8h0.9M324.2 241.6h0.9M330.2 236.7h0.9M334.3 233.8h0.9M335.1 243.6h0.9M330.0 227.8h0.9M325.4 228.2h0.9M328.2 233.7h0.9M344.8 241.0h0.9M333.3 224.5h0.9M325.6 230.5h0.9M330.3 222.6h0.9M337.7 227.8h0.9M334.9 208.3h0.9M329.3 237.1h0.9M330.3 240.6h0.9M330.8 235.8h0.9M319.5 226.2h0.9M317.1 240.9h0.9M330.9 231.9h0.9M325.0 227.6h0.9M329.0 248.2h0.9M321.0 212.7h0.9M326.8 224.4h0.9M326.4 236.1h0.9M345.0 226.7h0.9M329.6 237.0h0.9M329.1 244.2h0.9M338.5 220.3h0.9M330.1 231.1h0.9M331.2 217.2h0.9M320.2 208.5h0.9M332.0 236.1h0.9M329.7 208.0h0.9M327.4 225.7h0.9M321.9 223.9h0.9M332.9 240.0h0.9M329.2 239.7h0.9M326.2 234.8h0.9M329.5 240.1h0.9M328.9 232.4h0.9M328.6 226.9h0.9M340.9 239.7h0.9M336.6 216.9h0.9M332.9 243.2h0.9M339.1 248.5h0.9M333.3 221.1h0.9M324.8 237.0h0.9M331.9 222.8h0.9M327.3 229.6h0.9M329.6 237.7h0.9M327.8 220.4h0.9M335.8 251.6h0.9M328.7 245.3h0.9M331.6 241.3h0.9M331.8 225.6h0.9M332.3 245.1h0.9M339.6 242.2h0.9M327.5 227.4h0.9M325.1 235.3h0.9M329.1 241.4h0.9M341.1 233.7h0.9M332.8 239.2h0.9M330.7 231.7h0.9M328.7 224.9h0.9M330.2 233.7h0.9M331.0 224.6h0.9M329.5 234.5h0.9M332.4 222.3h0.9M331.5 244.8h0.9M332.4 229.9h0.9M326.7 231.4h0.9M333.1 251.1h0.9M328.5 226.9h0.9M331.3 236.2h0.9M324.6 225.9h0.9M328.8 241.4h0.9M323.1 222.8h0.9M331.9 220.5h0.9M329.9 237.9h0.9M328.7 222.8h0.9M329.0 230.3h0.9M331.0 224.8h0.9M335.0 215.6h0.9M328.4 234.1h0.9M334.3 227.3h0.9M332.1 227.8h0.9M327.2 238.9h0.9M324.5 244.7h0.9M335.6 234.4h0.9M323.4 238.4h0.9M335.3 246.0h0.9M333.5 213.9h0.9M325.8 249.6h0.9M322.9 246.4h0.9M339.1 242.4h0.9M335.1 230.3h0.9M322.9 232.9h0.9M328.3 233.5h0.9M332.9 232.4h0.9M330.3 238.7h0.9M331.6 234.9h0.9M328.2 227.1h0.9M336.3 235.7h0.9M323.7 227.8h0.9M328.6 229.1h0.9M334.9 221.2h0.9M331.9 235.6h0.9M323.2 234.5h0.9M328.8 239.5h0.9M327.0 237.3h0.9M320.6 222.1h0.9M333.4 245.5h0.9M329.2 227.4h0.9M334.9 211.0h0.9M325.1 241.4h0.9M332.7 222.6h0.9M319.5 250.0h0.9M330.1 224.1h0.9M329.6 243.9h0.9M315.8 246.2h0.9M333.1 211.1h0.9M333.3 214.4h0.9M335.2 238.4h0.9M341.0 227.3h0.9M329.3 245.5h0.9M326.0 226.2h0.9M327.4 233.2h0.9M323.7 239.3h0.9M332.1 234.8h0.9M338.1 230.4h0.9M336.1 228.0h0.9M333.2 212.7h0.9M330.3 232.1h0.9M326.7 227.3h0.9M327.5 226.1h0.9M317.9 227.4h0.9M326.4 228.2h0.9M323.8 232.5h0.9M333.4 231.2h0.9M326.7 248.9h0.9M334.4 244.1h0.9M335.3 230.4h0.9M328.6 246.2h0.9M326.4 232.7h0.9M331.3 238.1h0.9M327.9 244.8h0.9M328.4 242.0h0.9M334.9 241.3h0.9M333.1 221.2h0.9M322.5 227.2h0.9M331.8 250.5h0.9M322.9 237.4h0.9M324.9 225.9h0.9M327.9 241.6h0.9M330.4 247.0h0.9M324.2 243.8h0.9M334.1 234.8h0.9M331.8 227.8h0.9M323.6 229.5h0.9M326.8 252.2h0.9M330.4 237.4h0.9M333.2 225.4h0.9M334.1 238.1h0.9M321.4 240.6h0.9M332.2 239.0h0.9M337.5 229.4h0.9M332.0 242.2h0.9M324.6 247.2h0.9M321.8 219.7h0.9M332.0 222.0h0.9M328.7 215.9h0.9M329.7 221.5h0.9M331.1 217.1h0.9M331.6 231.1h0.9M329.6 233.3h0.9M330.0 219.5h0.9M316.0 234.4h0.9M324.4 229.0h0.9M331.5 212.2h0.9M325.3 227.3h0.9M323.8 237.6h0.9M328.6 225.0h0.9M324.2 242.9h0.9M325.9 240.4h0.9M331.6 213.2h0.9M323.7 234.0h0.9M331.1 242.6h0.9M333.5 245.4h0.9M327.4 231.7h0.9M333.3 229.3h0.9M334.8 216.5h0.9M332.7 232.1h0.9M319.1 244.8h0.9M330.9 234.2h0.9M323.7 228.9h0.9M337.2 224.9h0.9M311.2 224.6h0.9M323.1 232.5h0.9M327.3 224.0h0.9M324.9 245.5h0.9M326.5 222.0h0.9M333.4 240.2h0.9M323.9 242.2h0.9M319.7 223.8h0.9M335.2 231.2h0.9M322.5 239.7h0.9M334.1 233.8h0.9M319.9 230.2h0.9M331.5 242.5h0.9M338.9 231.2h0.9M326.8 233.6h0.9M335.6 223.6h0.9M336.1 203.8h0.9M333.4 226.6h0.9M331.7 241.6h0.9M323.2 233.0h0.9M330.6 240.5h0.9M324.5 223.1h0.9M328.3 231.6h0.9M321.5 244.2h0.9M326.5 249.8h0.9M333.7 234.2h0.9M333.1 221.8h0.9M327.6 227.7h0.9M322.7 234.2h0.9M328.5 249.8h0.9M311.9 226.6h0.9M324.5 228.9h0.9M331.5 238.4h0.9M329.4 228.8h0.9M331.9 238.0h0.9M319.7 231.1h0.9M322.2 221.0h0.9M330.1 234.7h0.9M329.9 224.4h0.9M328.3 224.0h0.9M331.3 241.6h0.9M338.4 247.9h0.9M325.1 229.0h0.9M324.4 237.4h0.9M339.6 241.8h0.9M317.9 220.2h0.9M322.6 239.7h0.9M329.3 237.3h0.9M338.6 224.9h0.9M331.1 225.4h0.9M318.8 217.2h0.9M316.6 234.8h0.9M329.5 244.9h0.9M328.6 226.4h0.9M320.1 235.9h0.9M329.4 240.8h0.9M327.2 239.5h0.9M333.5 232.4h0.9M326.9 232.0h0.9M324.3 231.7h0.9M327.7 236.3h0.9M336.2 248.4h0.9M327.0 240.6h0.9M330.8 242.4h0.9M329.4 236.9h0.9M326.9 225.4h0.9M333.8 248.3h0.9M332.7 238.8h0.9M330.7 229.0h0.9M320.0 241.3h0.9M330.3 227.9h0.9M324.3 248.1h0.9M325.6 233.8h0.9M326.7 235.7h0.9M328.2 225.8h0.9M334.9 225.4h0.9M326.7 240.1h0.9M326.5 229.2h0.9M331.2 230.0h0.9M322.8 232.9h0.9M323.6 244.7h0.9M325.2 230.1h0.9M327.6 237.0h0.9M326.0 248.6h0.9M334.5 242.9h0.9M325.4 243.9h0.9M328.7 237.9h0.9M327.9 241.3h0.9M335.1 246.4h0.9M328.2 244.9h0.9M336.9 223.7h0.9M337.0 219.3h0.9M332.1 240.5h0.9M337.0 237.1h0.9M326.8 225.2h0.9M322.8 242.4h0.9M328.1 226.1h0.9M332.1 225.6h0.9M327.0 229.0h0.9M337.9 250.1h0.9M328.5 216.7h0.9M330.7 234.8h0.9M331.1 240.2h0.9M327.6 244.2h0.9M333.7 236.3h0.9M327.2 228.7h0.9M332.9 221.9h0.9M328.5 225.8h0.9M322.1 240.6h0.9M329.2 234.4h0.9M333.8 217.6h0.9M329.0 237.2h0.9M333.6 222.1h0.9M333.0 236.4h0.9M336.4 246.5h0.9M329.3 229.3h0.9M327.5 223.7h0.9M329.2 213.3h0.9M328.9 238.7h0.9M334.5 230.2h0.9M336.5 226.8h0.9M328.6 213.3h0.9M325.3 225.3h0.9M336.9 239.7h0.9M323.7 239.7h0.9M331.7 231.5h0.9M329.4 230.7h0.9M326.5 215.0h0.9M328.8 247.8h0.9M336.6 231.0h0.9M325.5 231.7h0.9M333.9 237.8h0.9M326.3 237.9h0.9M328.3 239.5h0.9M327.2 218.2h0.9M329.6 242.2h0.9M323.7 232.8h0.9M333.8 230.0h0.9M333.5 245.0h0.9M324.5 251.5h0.9M320.9 228.4h0.9M333.0 248.2h0.9M324.6 226.9h0.9M330.3 213.4h0.9M332.5 240.0h0.9M327.0 239.7h0.9M333.2 237.3h0.9M331.9 250.2h0.9M326.9 235.7h0.9M326.7 245.0h0.9M327.2 239.1h0.9M330.0 234.7h0.9M338.0 233.1h0.9M336.4 242.8h0.9M335.9 232.2h0.9M334.0 242.0h0.9M326.2 236.9h0.9M328.7 233.6h0.9M335.8 226.3h0.9M320.8 215.5h0.9M327.0 227.1h0.9M329.4 240.0h0.9M338.1 237.3h0.9M331.6 226.2h0.9M332.2 248.4h0.9M336.0 213.3h0.9M333.8 250.8h0.9M333.4 218.1h0.9M327.8 240.2h0.9M331.4 225.4h0.9M324.8 244.2h0.9M322.6 249.2h0.9M329.4 237.2h0.9M322.6 227.7h0.9M332.8 218.4h0.9M339.7 219.1h0.9M323.2 234.5h0.9M331.7 241.8h0.9M327.4 231.8h0.9M328.1 227.9h0.9M316.4 244.2h0.9M330.6 235.7h0.9M326.2 236.7h0.9M329.2 233.2h0.9M334.8 215.8h0.9M330.6 222.7h0.9M327.7 249.8h0.9M323.9 232.9h0.9M326.3 244.0h0.9M324.4 216.2h0.9M331.9 230.3h0.9M327.7 245.4h0.9M324.9 230.1h0.9M330.0 238.4h0.9M326.7 244.9h0.9M340.5 229.7h0.9M338.6 211.7h0.9M336.3 230.4h0.9M330.0 230.4h0.9M326.1 220.5h0.9M327.3 247.7h0.9M335.0 230.3h0.9M326.7 226.6h0.9M332.6 235.2h0.9M326.8 223.2h0.9M335.9 242.2h0.9M324.5 244.4h0.9M323.8 240.8h0.9M324.5 229.6h0.9M331.8 238.6h0.9M334.3 225.2h0.9M337.2 248.2h0.9M329.2 238.9h0.9M325.4 232.4h0.9M322.7 234.9h0.9M330.3 248.2h0.9M334.0 242.6h0.9M327.5 231.6h0.9M327.6 236.3h0.9M319.7 242.1h0.9M321.5 228.6h0.9M329.4 228.6h0.9M337.6 233.0h0.9M337.1 246.4h0.9M326.8 238.2h0.9M335.8 230.5h0.9M329.7 228.1h0.9M329.6 230.3h0.9M329.7 244.6h0.9M336.3 235.4h0.9M330.3 243.0h0.9M327.9 222.8h0.9M334.8 224.1h0.9M333.9 223.8h0.9M338.4 223.0h0.9M333.5 249.8h0.9M324.5 249.7h0.9M325.2 215.4h0.9M332.9 241.4h0.9M328.3 207.3h0.9M329.0 230.8h0.9M327.4 230.9h0.9M320.4 228.0h0.9M338.3 250.3h0.9M327.5 226.5h0.9M331.3 245.2h0.9M332.9 221.7h0.9M330.1 235.5h0.9M336.5 246.6h0.9M331.9 246.8h0.9M327.3 250.2h0.9M327.2 238.2h0.9M333.9 224.4h0.9M325.8 215.4h0.9M330.1 233.4h0.9M327.7 239.3h0.9M318.7 233.8h0.9M329.7 231.2h0.9M327.1 224.1h0.9M326.3 235.0h0.9M332.2 224.9h0.9M334.3 223.2h0.9M333.4 238.5h0.9M328.0 232.3h0.9M331.7 243.1h0.9M322.6 236.9h0.9M325.6 240.7h0.9M336.1 234.5h0.9M328.8 235.9h0.9M314.5 242.1h0.9M332.1 235.7h0.9M327.3 226.3h0.9M328.4 246.8h0.9M328.8 248.2h0.9M316.5 229.1h0.9M330.7 233.9h0.9M321.0 227.0h0.9M335.5 220.4h0.9M324.4 222.4h0.9M326.5 240.8h0.9M332.3 212.6h0.9M336.6 227.7h0.9M326.4 251.6h0.9M328.9 220.9h0.9M326.1 226.3h0.9M324.3 230.5h0.9M333.7 237.7h0.9M324.4 235.2h0.9M329.5 242.0h0.9M327.7 238.8h0.9M339.8 235.0h0.9M323.9 237.5h0.9M325.3 230.1h0.9M330.2 237.6h0.9M327.9 243.0h0.9M328.3 220.2h0.9M333.7 230.2h0.9M335.4 227.1h0.9M332.2 237.3h0.9M315.8 218.2h0.9M323.7 248.9h0.9M319.9 243.6h0.9M334.8 239.2h0.9M332.7 228.8h0.9M329.2 236.4h0.9M331.4 241.5h0.9M328.3 226.6h0.9M326.5 238.3h0.9M321.0 220.8h0.9M327.2 228.2h0.9M327.9 205.9h0.9M327.6 231.3h0.9M333.2 213.1h0.9M327.8 239.0h0.9M331.7 246.6h0.9M334.6 222.9h0.9M332.5 230.5h0.9M325.3 250.2h0.9M326.2 225.0h0.9M327.3 225.0h0.9M334.3 238.0h0.9M336.3 238.3h0.9M326.2 245.1h0.9M326.0 229.1h0.9M328.5 234.4h0.9M335.3 227.6h0.9M331.1 233.7h0.9M323.0 222.4h0.9M328.2 238.3h0.9M330.9 239.1h0.9M329.5 229.3h0.9M331.4 223.4h0.9M322.6 230.5h0.9M322.1 228.5h0.9M325.6 228.1h0.9M329.1 225.5h0.9M327.2 215.9h0.9M330.0 224.7h0.9M331.3 204.0h0.9M325.3 236.6h0.9M317.1 230.2h0.9M329.8 235.1h0.9M321.8 236.4h0.9M330.0 223.7h0.9M333.0 233.5h0.9M329.4 229.2h0.9M332.0 235.0h0.9M335.0 238.8h0.9M326.2 231.6h0.9M333.9 230.1h0.9M331.2 239.5h0.9M328.4 209.3h0.9M330.0 236.3h0.9M330.0 225.9h0.9M335.4 232.6h0.9M326.2 226.4h0.9M331.1 222.4h0.9M335.9 245.2h0.9M336.2 240.3h0.9M320.8 246.7h0.9M335.5 239.2h0.9M319.5 247.2h0.9M336.2 228.8h0.9M329.9 242.3h0.9M328.9 245.7h0.9M329.7 241.4h0.9M329.7 218.2h0.9M330.7 248.0h0.9M335.0 252.3h0.9M332.1 227.6h0.9M329.4 213.5h0.9M328.4 243.7h0.9M318.4 236.1h0.9M333.5 248.2h0.9M324.6 227.0h0.9M319.8 223.1h0.9M323.5 248.7h0.9M331.5 228.7h0.9M340.4 207.1h0.9M329.0 236.3h0.9M340.7 235.4h0.9M334.3 248.6h0.9M331.9 237.8h0.9M328.4 229.6h0.9M327.0 211.8h0.9M330.6 233.6h0.9M328.8 231.2h0.9M325.5 233.8h0.9M327.1 236.2h0.9M345.1 238.2h0.9M333.7 242.7h0.9M332.9 242.8h0.9M332.7 249.1h0.9M334.4 248.4h0.9M326.8 234.0h0.9M325.6 244.2h0.9M333.5 229.0h0.9M335.6 222.1h0.9M328.8 240.8h0.9M329.1 238.1h0.9M335.3 237.5h0.9M323.7 241.7h0.9M328.8 235.2h0.9M326.4 219.2h0.9M323.0 230.2h0.9M323.9 204.9h0.9M335.1 221.6h0.9M325.6 239.7h0.9M317.1 248.4h0.9M325.4 241.1h0.9M326.9 237.3h0.9M329.8 234.0h0.9M320.0 218.3h0.9M329.1 249.1h0.9M326.5 239.7h0.9M330.1 239.2h0.9M334.3 217.9h0.9M330.7 232.1h0.9M327.7 224.9h0.9M325.3 223.0h0.9M337.9 234.1h0.9M333.1 223.5h0.9M315.2 214.5h0.9M330.0 249.4h0.9M329.1 223.3h0.9M328.1 223.3h0.9M322.2 231.5h0.9M327.3 225.3h0.9M324.8 224.0h0.9M330.5 248.9h0.9M321.1 236.9h0.9M323.4 232.3h0.9M329.8 240.0h0.9M335.0 228.1h0.9M323.0 232.0h0.9M330.8 226.5h0.9M333.8 252.0h0.9M322.1 237.9h0.9M334.5 213.4h0.9M330.3 231.6h0.9M322.1 248.1h0.9M330.4 228.9h0.9M331.5 240.9h0.9M333.2 240.2h0.9M331.4 221.4h0.9M327.2 235.4h0.9M327.4 222.7h0.9M320.1 236.7h0.9M329.5 227.7h0.9M327.2 224.5h0.9M325.5 232.9h0.9M326.0 241.3h0.9M328.6 235.4h0.9M331.4 247.6h0.9M332.3 236.4h0.9M328.5 225.4h0.9M327.6 241.3h0.9M330.4 229.8h0.9M322.6 217.6h0.9M330.9 245.0h0.9M331.2 219.3h0.9M328.2 236.4h0.9M324.6 237.7h0.9M328.3 225.1h0.9M323.0 242.7h0.9M331.1 224.5h0.9M324.2 243.5h0.9M332.3 230.7h0.9M337.4 230.9h0.9M323.9 245.7h0.9M328.3 237.7h0.9M329.5 223.3h0.9M323.3 231.9h0.9M336.4 223.2h0.9M336.2 236.4h0.9M323.7 236.9h0.9M332.2 224.4h0.9M318.5 237.8h0.9M323.7 238.7h0.9M319.6 232.5h0.9M325.2 218.1h0.9M326.8 206.3h0.9M325.5 195.8h0.9M330.0 208.8h0.9M334.8 211.9h0.9M329.3 207.1h0.9M327.9 194.7h0.9M333.9 209.1h0.9M326.6 196.1h0.9M334.0 209.1h0.9M322.8 210.2h0.9M335.7 204.8h0.9M329.5 201.8h0.9M325.2 213.3h0.9M340.7 205.9h0.9M327.3 211.2h0.9M326.5 210.7h0.9M331.3 197.1h0.9M323.3 204.4h0.9M331.3 207.2h0.9M333.0 194.3h0.9M329.9 200.2h0.9M328.2 207.5h0.9M323.8 203.2h0.9M322.9 207.1h0.9M324.3 201.2h0.9M328.7 199.9h0.9M332.6 200.1h0.9M331.3 207.2h0.9M323.5 203.3h0.9M324.3 202.2h0.9M326.7 219.1h0.9M326.1 217.2h0.9M329.7 194.9h0.9M318.2 210.3h0.9M319.5 210.6h0.9M332.1 208.0h0.9M326.9 203.1h0.9M328.9 202.7h0.9M325.6 202.1h0.9M332.7 200.2h0.9M329.4 196.1h0.9M324.8 194.4h0.9M327.0 210.3h0.9M329.1 201.2h0.9M330.3 202.3h0.9M329.4 207.1h0.9M322.4 211.0h0.9M327.4 222.4h0.9M326.8 200.7h0.9M334.0 209.3h0.9M335.7 208.9h0.9M327.0 210.6h0.9M324.5 201.5h0.9M325.5 203.3h0.9M331.0 201.3h0.9M329.1 201.1h0.9M326.9 206.3h0.9M323.3 212.8h0.9M328.7 214.9h0.9M331.8 210.0h0.9M327.2 196.6h0.9M326.9 201.4h0.9M328.8 201.4h0.9M340.5 192.6h0.9M332.7 201.4h0.9M326.8 212.2h0.9M327.8 195.6h0.9M329.5 203.5h0.9M319.3 206.5h0.9M323.4 199.2h0.9M329.8 207.3h0.9M326.6 221.8h0.9M329.5 200.3h0.9M328.8 204.1h0.9M318.6 192.8h0.9M322.0 221.0h0.9M327.0 202.9h0.9M325.5 212.6h0.9M327.9 218.2h0.9M331.1 217.7h0.9M327.3 207.9h0.9M326.0 203.7h0.9M320.6 200.5h0.9M323.9 200.0h0.9M332.8 207.0h0.9M332.9 211.6h0.9M331.6 212.7h0.9M325.3 211.2h0.9M326.5 200.9h0.9M332.8 221.7h0.9M323.7 218.4h0.9M331.2 198.5h0.9M328.9 207.9h0.9M329.4 202.3h0.9M322.5 205.2h0.9M331.4 211.1h0.9M330.5 213.5h0.9M323.7 204.7h0.9M329.2 212.7h0.9M328.4 209.0h0.9M328.4 221.2h0.9M318.8 204.8h0.9M338.1 206.8h0.9M320.2 206.0h0.9M321.9 199.8h0.9M328.7 218.2h0.9M329.7 210.2h0.9M332.0 206.5h0.9M324.2 204.2h0.9M329.2 202.9h0.9M325.0 202.2h0.9M321.6 197.1h0.9M327.4 202.2h0.9M328.0 215.8h0.9M329.0 204.8h0.9M322.9 196.7h0.9M329.4 198.3h0.9M329.6 196.7h0.9M328.4 204.4h0.9M331.9 202.0h0.9M326.3 206.9h0.9M328.0 218.0h0.9M326.7 200.9h0.9M326.5 208.6h0.9M328.8 210.3h0.9M322.1 224.1h0.9M335.4 204.8h0.9M322.8 206.2h0.9M327.9 193.6h0.9M329.7 215.6h0.9M332.1 193.4h0.9M333.5 212.0h0.9M326.3 208.9h0.9M334.1 202.4h0.9M327.7 200.7h0.9M333.7 197.6h0.9M331.6 192.5h0.9M323.9 200.4h0.9M331.2 192.5h0.9M330.3 200.1h0.9M332.9 202.6h0.9M329.8 203.7h0.9M335.2 202.2h0.9M327.7 220.3h0.9M328.1 210.3h0.9M324.7 206.5h0.9M318.4 205.8h0.9M325.1 193.4h0.9M321.9 213.8h0.9M329.6 193.3h0.9M335.3 199.6h0.9M326.3 206.9h0.9M323.1 192.6h0.9M324.7 214.1h0.9M331.7 192.8h0.9M332.8 205.3h0.9M329.9 205.4h0.9M329.5 197.3h0.9M324.0 199.6h0.9M326.3 209.8h0.9M322.8 217.3h0.9M325.2 200.5h0.9M330.7 208.3h0.9M326.4 196.8h0.9M323.7 192.7h0.9M332.5 213.3h0.9M335.5 208.8h0.9M329.2 210.8h0.9M331.7 203.0h0.9M329.3 221.6h0.9M320.8 194.2h0.9M323.8 210.8h0.9M332.7 202.4h0.9M330.6 204.6h0.9M329.0 200.8h0.9M327.7 205.0h0.9M332.5 222.2h0.9M320.3 209.1h0.9M327.8 212.5h0.9M332.2 211.0h0.9M331.1 197.7h0.9M320.7 217.9h0.9M332.8 197.7h0.9M333.1 210.1h0.9M317.6 211.9h0.9M323.7 214.0h0.9M325.0 199.3h0.9M321.4 203.3h0.9M332.0 199.8h0.9M320.1 221.5h0.9M335.4 210.3h0.9M325.6 195.7h0.9M321.0 209.3h0.9M333.2 196.8h0.9M327.8 202.9h0.9M326.7 208.9h0.9M336.5 200.1h0.9M331.3 213.4h0.9M326.6 203.9h0.9M322.2 213.3h0.9M292.0 232.2h0.9M294.8 231.0h0.9M289.7 234.3h0.9M301.4 234.8h0.9M296.9 227.5h0.9M285.5 246.5h0.9M292.7 227.1h0.9M294.0 239.5h0.9M286.5 230.9h0.9M295.7 230.7h0.9M298.2 241.6h0.9M296.5 233.5h0.9M294.3 232.3h0.9M293.9 237.8h0.9M293.1 241.6h0.9M306.5 232.8h0.9M296.1 240.8h0.9M297.5 234.6h0.9M292.3 241.8h0.9M297.4 238.9h0.9M290.8 239.7h0.9M298.2 234.9h0.9M297.5 248.6h0.9M285.8 239.5h0.9M289.1 228.1h0.9M293.4 239.2h0.9M294.7 229.2h0.9M287.8 232.8h0.9M294.6 231.2h0.9M287.5 246.2h0.9M290.6 235.1h0.9M292.0 232.6h0.9M294.7 234.3h0.9M297.4 229.1h0.9M287.6 247.3h0.9M294.2 240.5h0.9M300.0 239.2h0.9M294.7 227.0h0.9M287.1 241.7h0.9M297.6 239.3h0.9M286.8 223.6h0.9M289.6 229.1h0.9M295.2 230.1h0.9M301.9 232.4h0.9M291.9 241.0h0.9M296.0 230.8h0.9M298.3 247.2h0.9M288.8 234.6h0.9M289.5 224.7h0.9M297.4 240.1h0.9M299.0 238.5h0.9M285.1 235.8h0.9M291.4 229.1h0.9M289.3 240.5h0.9M293.1 247.5h0.9M296.7 224.9h0.9M298.7 243.3h0.9M294.6 228.9h0.9M302.7 228.3h0.9M294.1 224.9h0.9M288.6 226.1h0.9M299.6 242.9h0.9M292.6 228.1h0.9M294.2 238.2h0.9M287.4 229.2h0.9M294.0 240.1h0.9M294.8 238.6h0.9M288.7 221.4h0.9M296.0 230.6h0.9M293.9 233.8h0.9M296.7 231.5h0.9M301.3 236.2h0.9M297.0 239.7h0.9M299.4 238.4h0.9M286.3 232.3h0.9M303.2 238.8h0.9M297.1 238.7h0.9M291.5 232.0h0.9M291.5 242.8h0.9M296.2 246.4h0.9M296.8 247.1h0.9M296.6 229.1h0.9M302.7 238.0h0.9M300.1 237.3h0.9M293.0 237.0h0.9M289.2 229.0h0.9M290.3 232.9h0.9M288.1 235.4h0.9M295.9 247.9h0.9M303.2 235.7h0.9M298.7 234.7h0.9M296.3 235.8h0.9M292.0 236.4h0.9M287.5 238.6h0.9M293.1 229.6h0.9M292.8 239.3h0.9M291.3 238.8h0.9M297.2 245.2h0.9M289.4 235.3h0.9M296.9 244.9h0.9M295.7 240.5h0.9M287.6 232.6h0.9M302.4 234.3h0.9M304.7 231.7h0.9M293.2 226.6h0.9M297.5 237.6h0.9M304.0 237.0h0.9M293.3 227.7h0.9M294.1 241.6h0.9M298.0 243.3h0.9M298.6 235.7h0.9M297.4 237.0h0.9M288.2 246.1h0.9M296.3 229.8h0.9M296.3 237.7h0.9M299.2 244.6h0.9M301.8 230.4h0.9M285.7 237.7h0.9M296.1 238.1h0.9M289.2 233.2h0.9M295.4 240.4h0.9M304.9 237.7h0.9M291.6 222.0h0.9M299.6 235.2h0.9M294.0 230.1h0.9M298.0 225.3h0.9M295.0 236.7h0.9M295.9 243.8h0.9M294.0 236.6h0.9M298.6 226.8h0.9M293.1 236.4h0.9M299.0 231.2h0.9M298.3 238.3h0.9M287.4 227.2h0.9M287.7 236.8h0.9M295.5 240.3h0.9M298.4 232.7h0.9M299.6 240.9h0.9M296.7 238.9h0.9M288.4 238.2h0.9M289.6 228.9h0.9M292.8 236.8h0.9M294.2 234.0h0.9M289.7 237.1h0.9M291.0 227.6h0.9M294.9 244.7h0.9M292.6 229.7h0.9M301.1 246.2h0.9M293.1 234.7h0.9M295.1 241.9h0.9M296.6 225.1h0.9M289.2 228.6h0.9M296.6 236.6h0.9M303.1 234.4h0.9M296.0 236.4h0.9M295.2 249.8h0.9M295.9 244.8h0.9M300.7 232.4h0.9M297.8 233.7h0.9M295.0 236.9h0.9M294.6 233.2h0.9M301.9 234.4h0.9M297.9 246.0h0.9M297.5 242.1h0.9M301.1 242.5h0.9M302.7 227.5h0.9M303.9 236.2h0.9M286.1 232.2h0.9M287.8 235.9h0.9M287.4 230.0h0.9M295.9 236.9h0.9M290.7 234.6h0.9M294.0 236.4h0.9M294.5 234.7h0.9M298.7 226.4h0.9M292.1 236.8h0.9M292.6 232.7h0.9M292.4 237.3h0.9M300.5 234.9h0.9M293.2 238.1h0.9M293.3 224.4h0.9M295.8 233.7h0.9M291.8 239.8h0.9M294.7 232.6h0.9M284.1 225.7h0.9M294.6 235.3h0.9M296.6 237.3h0.9M292.2 228.4h0.9M289.2 235.2h0.9M289.0 240.5h0.9M297.4 207.9h0.9M303.0 208.0h0.9M312.1 215.1h0.9M303.7 221.8h0.9M299.9 208.1h0.9M294.7 231.8h0.9M309.1 243.5h0.9M296.7 229.0h0.9M303.9 231.6h0.9M301.4 230.5h0.9M308.5 229.5h0.9M311.2 222.4h0.9M311.7 217.7h0.9M312.3 199.3h0.9M304.1 216.8h0.9M304.0 233.3h0.9M307.6 224.9h0.9M312.5 210.7h0.9M299.9 237.6h0.9M305.6 205.3h0.9M305.7 213.3h0.9M311.4 234.3h0.9M301.3 235.6h0.9M299.8 232.3h0.9M306.9 222.9h0.9M296.9 221.5h0.9M292.6 218.9h0.9M294.7 234.9h0.9M299.2 202.1h0.9M306.9 227.3h0.9M301.5 243.1h0.9M307.9 224.6h0.9M300.8 197.4h0.9M306.4 232.6h0.9M301.0 211.3h0.9M303.8 209.0h0.9M304.0 230.9h0.9M311.5 226.4h0.9M305.0 230.7h0.9M311.0 221.1h0.9M297.9 216.9h0.9M297.7 216.0h0.9M303.4 227.1h0.9M304.8 224.6h0.9M302.2 227.8h0.9M308.4 230.8h0.9M311.5 221.4h0.9M302.7 239.3h0.9M305.0 227.7h0.9M302.3 232.7h0.9M302.0 214.9h0.9M303.7 220.0h0.9M308.2 220.6h0.9M304.6 222.0h0.9M305.7 218.3h0.9M309.5 211.2h0.9M302.1 217.6h0.9M307.2 224.4h0.9M306.4 221.0h0.9M300.4 213.9h0.9M333.4 202.5h0.9M294.3 197.4h0.9M357.7 214.9h0.9M332.7 226.2h0.9M300.4 195.5h0.9M284.6 243.5h0.9M293.3 250.2h0.9M311.0 235.6h0.9M293.9 239.6h0.9M302.5 213.8h0.9M323.0 198.3h0.9M302.2 240.1h0.9M305.0 214.7h0.9M341.2 205.2h0.9M298.1 204.9h0.9" stroke="#000" stroke-width="0.9" fill="none" filter="url(#bl)"/>
<path filter="url(#bl2)" d="M373.5,252.8 L373.5,209 C375,203 380,200 385,201 C389,203 391.5,207 392,214 C392.3,225 391.5,240 391,252.8 Z" fill="#000"/>
<ellipse filter="url(#bl2)" cx="426" cy="238.5" rx="3" ry="6.5" fill="#000" opacity="0.85"/>
<path d="M378.9 229.5h0.9M378.9 206.8h0.9M384.3 216.5h0.9M377.3 195.6h0.9M383.1 223.6h0.9M380.3 222.8h0.9M374.1 225.9h0.9M385.4 224.2h0.9M379.4 221.2h0.9M383.8 236.0h0.9M384.6 223.8h0.9M378.8 232.9h0.9M389.8 212.6h0.9M386.7 224.6h0.9M382.7 200.7h0.9M393.2 192.0h0.9M384.8 214.4h0.9M389.6 213.7h0.9M383.2 229.2h0.9M385.6 212.2h0.9M386.9 225.9h0.9M388.7 212.3h0.9M382.7 214.1h0.9M378.1 223.8h0.9M385.4 241.3h0.9M381.1 225.8h0.9M389.6 218.3h0.9M383.4 222.0h0.9M379.0 205.2h0.9M389.5 222.6h0.9M382.6 201.4h0.9M383.7 237.5h0.9M376.3 206.7h0.9M389.4 241.4h0.9M392.0 211.7h0.9M386.5 208.8h0.9M386.0 214.5h0.9M384.1 240.0h0.9M385.0 216.4h0.9M383.3 224.0h0.9M380.0 223.1h0.9M386.5 243.3h0.9M375.9 233.1h0.9M397.1 222.9h0.9M383.7 237.0h0.9M380.1 212.8h0.9M385.0 211.3h0.9M389.4 220.0h0.9M380.4 233.8h0.9M378.2 238.6h0.9M388.6 222.1h0.9M388.7 244.0h0.9M390.9 220.0h0.9M382.7 236.5h0.9M374.5 211.0h0.9M385.8 228.5h0.9M393.7 246.2h0.9M384.9 226.6h0.9M375.4 217.2h0.9M384.5 216.6h0.9M383.3 229.0h0.9M377.5 211.6h0.9M376.9 194.7h0.9M387.4 216.8h0.9M388.5 214.5h0.9M395.2 230.6h0.9M383.9 221.7h0.9M381.8 232.0h0.9M394.5 213.7h0.9M376.8 228.9h0.9M389.1 197.9h0.9M379.0 205.2h0.9M386.2 227.5h0.9M378.8 203.3h0.9M386.7 217.7h0.9M394.0 234.7h0.9M379.7 215.9h0.9M381.4 209.2h0.9M383.5 234.3h0.9M374.4 216.6h0.9M391.5 231.0h0.9M378.3 208.1h0.9M378.1 196.3h0.9M389.6 221.0h0.9M379.0 198.8h0.9M380.8 212.4h0.9M392.8 213.2h0.9M383.7 235.8h0.9M386.8 217.3h0.9M386.4 213.6h0.9M382.5 205.9h0.9M377.9 198.1h0.9M385.9 227.6h0.9M384.0 231.5h0.9M386.1 221.8h0.9M378.0 228.7h0.9M389.8 229.3h0.9M390.1 213.0h0.9M377.4 238.4h0.9M379.7 223.6h0.9M381.9 220.3h0.9M381.5 212.1h0.9M384.2 191.7h0.9M377.8 203.4h0.9M386.3 244.1h0.9M381.6 230.9h0.9M386.4 201.7h0.9M389.9 195.2h0.9M379.7 214.7h0.9M390.1 221.7h0.9M382.3 208.2h0.9M383.5 220.6h0.9M387.2 240.5h0.9M387.2 220.3h0.9M382.1 243.5h0.9M384.1 219.8h0.9M393.2 243.0h0.9M386.2 218.4h0.9M379.4 235.7h0.9M380.4 234.1h0.9M378.6 221.5h0.9M385.3 222.1h0.9M384.3 225.6h0.9M376.6 203.7h0.9M382.2 246.5h0.9M382.3 206.4h0.9M379.3 220.5h0.9M389.7 211.7h0.9M386.2 222.7h0.9M381.0 206.2h0.9M382.1 209.4h0.9M386.0 194.2h0.9M389.4 231.1h0.9M386.3 241.9h0.9M386.4 195.0h0.9M383.3 226.6h0.9M379.1 203.4h0.9M385.5 227.5h0.9M380.6 216.4h0.9M380.1 211.7h0.9M382.7 235.7h0.9M373.9 215.0h0.9M392.1 224.6h0.9M383.9 232.2h0.9M377.3 202.3h0.9M373.6 198.7h0.9M384.4 232.4h0.9M380.6 210.1h0.9M385.3 229.0h0.9M384.5 192.2h0.9M384.4 207.6h0.9M379.3 242.0h0.9M390.5 227.0h0.9M384.6 222.5h0.9M379.7 219.3h0.9M393.8 207.2h0.9M379.3 222.4h0.9M388.0 232.2h0.9M377.5 218.1h0.9M381.5 202.0h0.9M383.4 213.0h0.9M388.2 226.3h0.9M378.6 221.2h0.9M381.0 210.7h0.9M380.3 235.5h0.9M380.7 195.0h0.9M378.6 231.8h0.9M395.1 204.6h0.9M381.0 215.2h0.9M375.1 225.9h0.9M382.7 224.1h0.9M395.6 216.1h0.9M387.5 232.2h0.9M379.4 211.4h0.9M391.8 230.4h0.9M383.8 204.0h0.9M388.0 227.7h0.9M395.4 241.5h0.9M387.5 223.9h0.9M383.4 212.0h0.9M384.7 223.6h0.9M386.7 235.8h0.9M384.8 212.1h0.9M387.6 242.6h0.9M378.3 226.1h0.9M386.1 227.8h0.9M385.8 218.7h0.9M382.4 244.6h0.9M392.8 199.6h0.9M379.2 212.5h0.9M374.0 225.2h0.9M382.7 212.1h0.9M391.3 237.1h0.9M380.7 229.6h0.9M382.8 236.9h0.9M386.3 219.5h0.9M386.1 209.5h0.9M387.5 241.9h0.9M381.0 228.1h0.9M373.6 233.7h0.9M387.9 205.1h0.9M392.8 221.7h0.9M387.9 216.0h0.9M389.2 197.4h0.9M382.4 234.2h0.9M379.2 229.9h0.9M381.0 225.0h0.9M384.8 252.5h0.9M376.0 231.4h0.9M390.4 203.6h0.9M381.7 195.1h0.9M384.7 209.4h0.9M379.8 207.8h0.9M384.7 213.2h0.9M377.9 216.7h0.9M385.3 207.5h0.9M389.3 195.8h0.9M385.3 214.3h0.9M391.9 210.6h0.9M379.3 200.5h0.9M394.2 229.0h0.9M376.9 215.1h0.9M377.6 242.2h0.9M384.2 233.3h0.9M383.0 226.9h0.9M382.4 223.0h0.9M384.2 209.7h0.9M385.0 222.4h0.9M382.8 210.0h0.9M377.3 223.6h0.9M380.0 239.7h0.9M388.2 209.6h0.9M390.6 205.6h0.9M378.5 248.3h0.9M380.5 216.8h0.9M373.7 205.3h0.9M376.4 218.0h0.9M381.0 211.2h0.9M379.4 230.8h0.9M391.6 214.1h0.9M392.1 243.5h0.9M390.6 224.4h0.9M374.6 229.8h0.9M380.7 222.8h0.9M384.3 206.3h0.9M384.7 244.4h0.9M384.3 210.0h0.9M377.8 226.0h0.9M384.5 232.1h0.9M378.5 241.4h0.9M385.8 237.4h0.9M374.4 220.0h0.9M392.0 249.4h0.9M390.4 220.0h0.9M384.0 210.8h0.9M389.2 209.8h0.9M374.5 246.0h0.9M383.3 223.1h0.9M394.7 198.1h0.9M380.0 216.9h0.9M375.9 200.2h0.9M376.0 229.4h0.9M382.7 232.0h0.9M376.9 228.6h0.9M380.5 221.3h0.9M388.3 220.5h0.9M381.0 195.6h0.9M383.4 231.5h0.9M379.4 219.0h0.9M385.3 239.0h0.9M381.2 195.5h0.9M380.8 197.0h0.9M381.4 248.3h0.9M384.7 217.8h0.9M388.9 214.4h0.9M384.9 222.9h0.9M385.5 198.4h0.9M387.0 233.0h0.9M377.9 241.9h0.9M383.1 230.0h0.9M386.2 233.1h0.9M379.4 211.4h0.9M385.1 229.0h0.9M386.3 225.0h0.9M380.2 236.3h0.9M385.7 235.7h0.9M379.2 221.8h0.9M380.3 215.4h0.9M384.1 225.1h0.9M378.5 228.0h0.9M378.2 226.3h0.9M380.9 206.1h0.9M389.7 244.5h0.9M382.4 219.3h0.9M388.5 200.4h0.9M378.0 236.8h0.9M388.2 212.7h0.9M378.6 225.2h0.9M374.9 212.6h0.9M386.4 231.3h0.9M389.1 198.7h0.9M375.6 207.9h0.9M375.5 250.5h0.9M377.4 215.4h0.9M384.2 226.8h0.9M391.3 203.8h0.9M388.1 222.2h0.9M376.3 222.2h0.9M374.9 244.1h0.9M378.8 235.0h0.9M390.5 210.8h0.9M377.8 221.9h0.9M377.0 233.4h0.9M384.0 208.6h0.9M379.1 230.8h0.9M374.7 245.2h0.9M378.5 217.1h0.9M377.7 244.2h0.9M387.7 239.4h0.9M386.8 221.3h0.9M392.8 229.9h0.9M385.5 228.6h0.9M387.2 224.2h0.9M382.0 196.2h0.9M394.9 200.6h0.9M394.2 238.2h0.9M379.5 224.0h0.9M381.1 224.4h0.9M389.8 202.0h0.9M384.9 221.2h0.9M383.9 222.2h0.9M380.9 199.6h0.9M385.6 225.8h0.9M386.3 238.7h0.9M377.7 226.0h0.9M382.9 230.9h0.9M401.6 212.3h0.9M382.0 211.0h0.9M384.4 227.8h0.9M377.4 239.7h0.9M389.6 226.7h0.9M382.4 216.4h0.9M377.3 212.5h0.9M388.8 206.2h0.9M380.0 232.9h0.9M393.8 209.6h0.9M389.4 210.2h0.9M385.3 227.3h0.9M376.4 235.4h0.9M393.4 220.8h0.9M384.6 202.4h0.9M393.4 220.9h0.9M375.6 231.5h0.9M374.5 209.7h0.9M395.8 210.5h0.9M379.2 211.3h0.9M379.7 228.3h0.9M391.5 204.9h0.9M385.6 193.0h0.9M391.8 218.7h0.9M378.9 243.0h0.9M382.4 240.5h0.9M389.2 244.9h0.9M378.4 220.9h0.9M385.1 217.1h0.9M391.8 209.3h0.9M388.8 240.4h0.9M377.8 211.8h0.9M385.3 217.4h0.9M383.5 213.1h0.9M382.5 227.3h0.9M387.3 208.3h0.9M382.3 208.6h0.9M382.0 198.5h0.9M388.5 230.1h0.9M382.3 209.7h0.9M380.4 210.0h0.9M374.0 244.5h0.9M402.1 201.6h0.9M376.2 228.7h0.9M386.5 196.4h0.9M380.1 221.3h0.9M383.0 211.6h0.9M382.2 215.5h0.9M390.2 218.6h0.9M382.8 212.1h0.9M379.3 209.0h0.9M383.1 247.6h0.9M389.5 223.5h0.9M392.7 235.2h0.9M384.2 217.5h0.9M376.6 223.7h0.9M381.2 196.2h0.9M375.5 249.0h0.9M384.2 227.5h0.9M384.2 213.0h0.9M385.7 236.3h0.9M381.2 227.7h0.9M388.9 212.8h0.9M384.0 208.9h0.9M386.5 214.5h0.9M389.6 208.5h0.9M392.8 215.3h0.9M378.1 206.4h0.9M386.8 207.2h0.9M393.5 239.2h0.9M386.0 198.7h0.9M382.9 209.1h0.9M395.8 212.0h0.9M387.7 239.3h0.9M377.4 214.9h0.9M384.6 227.1h0.9M376.4 223.2h0.9M382.4 234.3h0.9M373.7 211.5h0.9M380.1 215.2h0.9M387.2 210.6h0.9M398.9 209.4h0.9M387.9 235.3h0.9M388.6 216.9h0.9M378.2 216.2h0.9M386.9 221.8h0.9M386.4 228.6h0.9M377.9 206.0h0.9M391.4 212.7h0.9M373.8 247.9h0.9M378.2 206.0h0.9M388.6 203.0h0.9M377.9 235.7h0.9M383.7 220.8h0.9M379.3 216.7h0.9M380.1 219.6h0.9M387.5 200.9h0.9M391.7 218.9h0.9M382.9 219.1h0.9M388.8 224.8h0.9M387.9 217.5h0.9M382.3 219.2h0.9M373.8 205.1h0.9M386.9 220.8h0.9M387.7 245.6h0.9M393.8 240.7h0.9M381.7 250.7h0.9M377.9 218.7h0.9M388.8 216.8h0.9M382.3 214.7h0.9M390.4 235.9h0.9M382.6 228.4h0.9M377.4 236.6h0.9M400.8 206.2h0.9M391.1 219.2h0.9M381.0 212.7h0.9M381.9 201.2h0.9M375.1 244.9h0.9M382.9 228.3h0.9M384.8 227.2h0.9M374.2 205.8h0.9M386.7 235.0h0.9M376.4 211.3h0.9M376.8 229.8h0.9M385.0 220.5h0.9M379.2 225.1h0.9M383.2 208.8h0.9M384.9 210.0h0.9M388.5 229.4h0.9M379.0 228.8h0.9M383.4 209.4h0.9M377.7 195.1h0.9M376.4 225.2h0.9M390.0 210.6h0.9M383.9 225.2h0.9M387.5 226.6h0.9M390.1 231.5h0.9M378.6 226.0h0.9M383.1 228.7h0.9M381.2 232.5h0.9M390.7 207.4h0.9M379.8 223.9h0.9M385.8 222.2h0.9M387.8 202.3h0.9M387.5 237.5h0.9M389.4 226.4h0.9M381.6 226.0h0.9M382.6 196.2h0.9M379.5 219.4h0.9M380.0 206.0h0.9M381.7 214.4h0.9M383.4 219.3h0.9M384.0 234.9h0.9M383.8 226.1h0.9M380.7 230.2h0.9M381.0 210.7h0.9M375.8 233.4h0.9M379.9 223.7h0.9M389.6 228.0h0.9M396.0 218.0h0.9M388.5 230.4h0.9M379.2 220.7h0.9M379.7 204.6h0.9M384.7 208.4h0.9M392.7 208.9h0.9M379.8 221.4h0.9M380.0 220.8h0.9M379.5 198.7h0.9M391.8 226.7h0.9M383.9 213.0h0.9M382.2 224.5h0.9M374.9 208.0h0.9M377.8 238.9h0.9M376.9 237.6h0.9M382.5 220.5h0.9M390.8 233.1h0.9M388.4 204.0h0.9M389.6 245.2h0.9M382.4 212.7h0.9M376.7 235.3h0.9M384.7 220.1h0.9M375.8 244.3h0.9M388.1 219.7h0.9M391.6 205.7h0.9M388.1 205.0h0.9M391.2 215.9h0.9M390.1 213.8h0.9M385.3 237.1h0.9M377.8 221.5h0.9M378.1 232.8h0.9M379.5 214.4h0.9M381.8 237.5h0.9M377.0 219.6h0.9M381.1 211.8h0.9M378.4 217.6h0.9M384.1 196.8h0.9M384.4 202.2h0.9M377.4 219.0h0.9M381.5 234.7h0.9M380.2 193.2h0.9M373.7 222.7h0.9M384.5 236.0h0.9M379.9 230.0h0.9M376.8 239.4h0.9M382.6 209.8h0.9M384.0 246.1h0.9M378.1 201.4h0.9M377.1 202.7h0.9M382.7 225.3h0.9M382.0 223.0h0.9M389.9 215.7h0.9M384.4 209.8h0.9M381.6 226.1h0.9M385.7 196.5h0.9M377.4 221.1h0.9M382.2 237.2h0.9M389.8 195.5h0.9M377.4 225.8h0.9M384.4 228.0h0.9M386.1 209.2h0.9M390.3 194.7h0.9M379.6 224.3h0.9M383.8 205.6h0.9M392.2 242.1h0.9M377.6 225.6h0.9M379.3 213.5h0.9M388.7 221.9h0.9M382.4 221.5h0.9M376.2 238.3h0.9M378.6 239.6h0.9M380.3 213.2h0.9M391.6 222.9h0.9M379.3 212.0h0.9M386.5 248.1h0.9M386.6 214.1h0.9M376.5 209.9h0.9M382.3 223.7h0.9M379.2 239.2h0.9M377.4 209.3h0.9M385.9 227.2h0.9M380.7 234.4h0.9M374.8 244.5h0.9M395.7 249.3h0.9M383.7 249.5h0.9M383.3 239.9h0.9M381.8 222.9h0.9M386.0 193.8h0.9M381.8 245.8h0.9M388.3 224.9h0.9M384.1 240.8h0.9M384.9 191.6h0.9M377.5 215.6h0.9M383.8 213.3h0.9M382.4 245.0h0.9M388.4 229.0h0.9M383.1 221.0h0.9M385.1 223.6h0.9M378.8 231.7h0.9M378.2 219.4h0.9M380.9 202.7h0.9M386.5 219.0h0.9M376.2 218.8h0.9M375.0 241.5h0.9M386.0 249.8h0.9M379.7 230.6h0.9M377.4 207.2h0.9M382.5 226.2h0.9M388.4 216.0h0.9M389.4 234.4h0.9M377.9 217.3h0.9M377.7 245.5h0.9M379.8 233.2h0.9M388.3 216.2h0.9M380.2 225.1h0.9M378.5 201.1h0.9M377.4 225.1h0.9M384.1 246.3h0.9M376.3 237.3h0.9M387.0 221.9h0.9M391.5 214.4h0.9M379.9 204.3h0.9M379.2 221.7h0.9M386.9 239.1h0.9M381.4 209.1h0.9M381.1 213.6h0.9M380.3 214.0h0.9M378.0 219.2h0.9M380.0 217.5h0.9M375.0 222.2h0.9M386.3 229.7h0.9M379.8 203.0h0.9M375.5 202.5h0.9M379.3 215.4h0.9M374.1 209.8h0.9M378.8 232.3h0.9M393.6 214.7h0.9M381.4 214.2h0.9M381.9 217.5h0.9M397.2 203.8h0.9M382.4 208.3h0.9M385.1 212.3h0.9M386.3 203.9h0.9M395.1 223.1h0.9M380.3 202.9h0.9M385.5 212.3h0.9M387.2 211.9h0.9M388.2 222.2h0.9M385.1 222.3h0.9M380.9 214.6h0.9M385.6 230.5h0.9M392.7 203.0h0.9M389.2 219.0h0.9M384.3 208.3h0.9M392.5 207.8h0.9M382.5 209.3h0.9M394.1 238.6h0.9M375.4 213.4h0.9M385.1 213.6h0.9M381.0 204.1h0.9M384.4 203.9h0.9M381.1 244.3h0.9M385.1 210.1h0.9M381.0 205.8h0.9M383.7 230.4h0.9M388.3 215.9h0.9M376.2 218.9h0.9M392.6 224.2h0.9M380.5 228.1h0.9M377.6 239.9h0.9M379.8 207.2h0.9M379.7 218.7h0.9M388.7 211.7h0.9M386.0 242.7h0.9M376.6 241.9h0.9M386.9 226.7h0.9M378.6 207.0h0.9M377.5 233.8h0.9M384.3 235.8h0.9M393.4 220.3h0.9M382.7 248.3h0.9M375.6 213.5h0.9M380.9 214.5h0.9M383.8 207.7h0.9M389.6 200.0h0.9M378.4 195.2h0.9M375.0 228.7h0.9M386.6 217.2h0.9M387.8 229.1h0.9M379.7 219.5h0.9M385.1 249.6h0.9M380.5 225.5h0.9M386.1 238.0h0.9M385.4 235.8h0.9M376.9 216.2h0.9M396.3 223.6h0.9M383.5 224.0h0.9M383.8 200.6h0.9M379.1 217.5h0.9M384.0 207.4h0.9M382.4 209.3h0.9M375.5 210.4h0.9M378.4 232.4h0.9M390.6 228.6h0.9M381.8 211.9h0.9M374.0 212.4h0.9M391.9 237.0h0.9M384.3 216.5h0.9M383.0 226.3h0.9M383.0 226.4h0.9M378.6 220.8h0.9M381.0 235.9h0.9M375.9 239.1h0.9M382.5 212.7h0.9M383.1 221.9h0.9M381.7 226.3h0.9M379.7 195.3h0.9M387.0 219.7h0.9M392.5 225.8h0.9M379.1 228.1h0.9M395.7 236.1h0.9M376.8 218.8h0.9M373.8 229.9h0.9M386.2 205.1h0.9M385.6 233.8h0.9M387.6 210.3h0.9M379.1 203.7h0.9M375.6 224.7h0.9M383.2 239.1h0.9M384.6 215.4h0.9M374.9 242.7h0.9M383.9 219.7h0.9M377.3 204.8h0.9M386.6 205.9h0.9M386.3 229.3h0.9M380.8 196.4h0.9M385.3 240.6h0.9M378.3 201.7h0.9M389.2 222.2h0.9M379.4 238.0h0.9M381.4 226.7h0.9M380.7 209.2h0.9M384.3 207.6h0.9M390.0 236.1h0.9M395.4 234.6h0.9M392.2 223.8h0.9M380.5 226.9h0.9M377.6 230.8h0.9M380.5 223.9h0.9M378.2 218.2h0.9M388.6 217.0h0.9M379.2 224.3h0.9M388.0 217.4h0.9M376.3 197.5h0.9M375.4 235.7h0.9M382.5 227.1h0.9M389.1 224.3h0.9M385.7 212.8h0.9M373.8 229.3h0.9M382.5 228.5h0.9M376.9 218.1h0.9M394.5 207.9h0.9M383.6 239.2h0.9M381.7 222.0h0.9M380.5 238.8h0.9M382.5 214.8h0.9M385.5 216.7h0.9M380.1 242.6h0.9M388.6 221.8h0.9M387.6 232.1h0.9M386.3 220.9h0.9M383.4 226.1h0.9M386.2 225.3h0.9M379.9 219.1h0.9M385.6 206.0h0.9M382.9 231.1h0.9M384.0 216.1h0.9M382.9 213.2h0.9M388.6 214.8h0.9M373.5 202.8h0.9M384.7 223.2h0.9M380.3 201.3h0.9M382.2 208.1h0.9M379.3 220.2h0.9M378.6 224.7h0.9M378.8 213.5h0.9M381.7 241.3h0.9M392.0 233.8h0.9M378.8 220.3h0.9M388.2 231.8h0.9M373.8 219.4h0.9M378.8 231.0h0.9M386.6 212.5h0.9M395.2 216.2h0.9M396.9 217.8h0.9M382.5 247.5h0.9M380.0 213.4h0.9M391.4 219.7h0.9M385.7 202.2h0.9M393.2 234.3h0.9M385.0 230.4h0.9M380.2 213.4h0.9M374.1 225.5h0.9M390.0 232.5h0.9M388.2 230.4h0.9M377.8 201.5h0.9M386.6 222.6h0.9M388.6 216.3h0.9M378.0 226.6h0.9M379.8 196.8h0.9M379.5 207.7h0.9M376.7 212.4h0.9M392.8 214.3h0.9M389.5 219.2h0.9M385.3 210.6h0.9M382.6 196.3h0.9M393.2 209.3h0.9M386.3 211.9h0.9M384.5 203.4h0.9M380.9 233.3h0.9M386.4 192.5h0.9M387.8 201.5h0.9M384.6 227.7h0.9M379.4 215.7h0.9M381.6 226.0h0.9M388.2 239.7h0.9M384.9 248.7h0.9M377.6 245.6h0.9M381.5 231.2h0.9M382.3 221.4h0.9M377.8 225.8h0.9M394.5 222.4h0.9M382.9 220.3h0.9M387.0 217.3h0.9M383.0 223.3h0.9M390.4 233.8h0.9M377.0 211.2h0.9M383.1 232.3h0.9M388.5 217.3h0.9M395.1 217.9h0.9M391.0 240.5h0.9M392.1 223.1h0.9M386.3 198.5h0.9M387.1 235.4h0.9M382.4 235.1h0.9M386.3 242.0h0.9M374.0 208.4h0.9M377.6 205.4h0.9M392.4 207.1h0.9M378.3 214.6h0.9M388.0 213.7h0.9M387.2 228.1h0.9M377.8 202.5h0.9M392.3 210.0h0.9M376.9 225.6h0.9M383.3 206.9h0.9M389.2 233.3h0.9M384.6 209.4h0.9M378.0 191.0h0.9M385.2 225.8h0.9M377.8 220.6h0.9M401.6 204.2h0.9M380.6 213.2h0.9M386.5 218.4h0.9M388.7 227.6h0.9M389.6 221.9h0.9M384.4 200.4h0.9M383.4 232.8h0.9M377.2 220.8h0.9M378.8 205.9h0.9M379.5 238.4h0.9M386.9 219.8h0.9M382.5 222.0h0.9M384.6 222.8h0.9M387.0 203.0h0.9M382.2 218.8h0.9M379.6 227.8h0.9M381.5 216.2h0.9M377.6 216.2h0.9M377.1 220.8h0.9M390.5 234.6h0.9M385.4 200.7h0.9M388.9 233.5h0.9M383.1 215.4h0.9M389.2 204.7h0.9M388.7 191.7h0.9M383.1 239.7h0.9M379.5 228.7h0.9M383.6 199.3h0.9M379.4 236.3h0.9M389.8 211.6h0.9M389.4 210.0h0.9M384.4 219.8h0.9M375.9 224.7h0.9M378.3 208.0h0.9M378.2 206.2h0.9M388.1 221.2h0.9M384.5 216.3h0.9M383.4 216.4h0.9M376.8 198.4h0.9M383.4 234.7h0.9M384.3 243.2h0.9M375.2 216.3h0.9M379.5 237.7h0.9M392.7 212.6h0.9M387.2 216.6h0.9M377.3 218.5h0.9M377.1 242.3h0.9M386.4 237.1h0.9M387.6 221.4h0.9M388.8 244.6h0.9M377.2 231.4h0.9M384.9 217.6h0.9M381.4 227.7h0.9M386.3 229.5h0.9M380.7 201.2h0.9M390.5 238.7h0.9M379.8 219.6h0.9M387.6 194.9h0.9M384.5 209.9h0.9M394.7 220.2h0.9M384.2 214.0h0.9M384.0 194.3h0.9M375.7 198.9h0.9M388.1 218.7h0.9M379.6 241.0h0.9M378.5 193.3h0.9M378.7 215.1h0.9M382.9 238.8h0.9M390.6 242.3h0.9M386.3 212.8h0.9M380.2 198.8h0.9M390.3 238.0h0.9M383.5 207.2h0.9M386.8 227.1h0.9M383.9 203.3h0.9M384.4 211.9h0.9M387.2 228.6h0.9M385.5 213.9h0.9M391.7 231.2h0.9M390.2 232.1h0.9M386.8 225.7h0.9M376.9 193.9h0.9M377.7 228.9h0.9M388.2 222.7h0.9M383.5 246.4h0.9M380.7 194.4h0.9M374.2 215.4h0.9M387.0 230.6h0.9M381.7 231.8h0.9M382.7 209.6h0.9M380.8 230.9h0.9M388.4 203.9h0.9M377.4 221.8h0.9M395.1 203.2h0.9M375.9 226.0h0.9M385.9 211.2h0.9M382.9 227.0h0.9M386.4 233.3h0.9M389.6 219.0h0.9M374.8 239.3h0.9M387.4 210.9h0.9M388.9 234.9h0.9M380.3 209.1h0.9M378.2 218.8h0.9M376.9 225.6h0.9M393.7 202.9h0.9M388.9 212.4h0.9M386.1 218.2h0.9M390.3 209.8h0.9M387.2 208.9h0.9M384.3 219.8h0.9M389.2 197.3h0.9M375.3 240.0h0.9M385.2 244.4h0.9M377.1 223.0h0.9M386.4 245.4h0.9M382.7 213.6h0.9M387.1 218.5h0.9M378.7 231.0h0.9M390.7 212.8h0.9M381.2 225.3h0.9M389.4 227.6h0.9M377.5 211.8h0.9M389.0 218.3h0.9M379.4 232.6h0.9M389.5 251.3h0.9M376.9 209.8h0.9M379.1 225.1h0.9M380.3 236.0h0.9M379.4 216.1h0.9M386.2 222.9h0.9M377.3 241.6h0.9M386.3 212.9h0.9M384.2 204.1h0.9M376.0 215.7h0.9M385.1 221.5h0.9M378.6 200.1h0.9M385.1 208.5h0.9M389.7 227.8h0.9M380.7 211.2h0.9M389.4 224.7h0.9M392.3 225.2h0.9M379.7 211.4h0.9M379.0 223.7h0.9M384.4 228.7h0.9M385.6 204.9h0.9M381.8 206.5h0.9M385.7 201.1h0.9M379.7 207.7h0.9M379.5 216.3h0.9M391.5 216.3h0.9M374.9 215.7h0.9M387.2 228.0h0.9M384.4 248.7h0.9M389.3 221.3h0.9M389.9 200.7h0.9M382.0 207.5h0.9M384.0 243.3h0.9M380.2 242.9h0.9M377.2 240.5h0.9M388.6 218.7h0.9M383.8 219.8h0.9M384.0 217.4h0.9M377.5 215.8h0.9M383.6 207.1h0.9M385.6 245.4h0.9M373.7 212.2h0.9M381.4 220.3h0.9M383.5 209.6h0.9M382.8 220.1h0.9M382.5 242.2h0.9M383.7 198.7h0.9M374.2 228.5h0.9M381.1 211.1h0.9M375.4 215.6h0.9M382.5 210.1h0.9M381.0 232.8h0.9M387.4 227.9h0.9M382.0 200.5h0.9M387.4 241.5h0.9M390.2 236.8h0.9M384.6 225.4h0.9M382.9 238.0h0.9M381.5 250.9h0.9M387.4 215.4h0.9M383.0 196.9h0.9M378.9 215.7h0.9M396.8 208.3h0.9M388.2 221.1h0.9M381.3 229.0h0.9M393.9 224.3h0.9M382.7 222.3h0.9M386.7 213.0h0.9M383.7 227.3h0.9M381.0 225.6h0.9M384.9 230.3h0.9M377.4 212.3h0.9M380.6 237.2h0.9M384.4 196.2h0.9M375.8 247.9h0.9M384.9 201.4h0.9M377.9 222.1h0.9M391.0 243.3h0.9M380.9 215.7h0.9M393.8 205.9h0.9M391.8 224.9h0.9M383.5 238.5h0.9M385.7 208.0h0.9M374.4 220.2h0.9M385.9 239.7h0.9M386.5 241.8h0.9M387.5 223.1h0.9M385.4 225.7h0.9M379.5 218.4h0.9M383.7 213.5h0.9M374.8 199.2h0.9M385.8 227.5h0.9M383.6 203.2h0.9M387.8 214.4h0.9M374.6 252.5h0.9M386.0 213.7h0.9M391.3 239.6h0.9M384.5 195.3h0.9M380.9 215.9h0.9M385.6 218.2h0.9M384.9 196.5h0.9M379.4 240.8h0.9M374.8 233.3h0.9M396.0 229.4h0.9M375.2 238.0h0.9M380.7 237.9h0.9M389.6 222.7h0.9M393.1 234.2h0.9M380.3 205.8h0.9M396.9 214.2h0.9M385.3 218.3h0.9M380.3 196.8h0.9M382.2 218.3h0.9M388.5 212.6h0.9M374.2 204.5h0.9M382.8 223.6h0.9M387.1 214.5h0.9M386.0 222.1h0.9M392.5 219.2h0.9M383.8 228.2h0.9M389.9 206.7h0.9M380.3 216.0h0.9M389.0 220.3h0.9M402.0 238.4h0.9M394.4 242.7h0.9M388.1 199.6h0.9M391.6 226.1h0.9M376.3 220.8h0.9M387.3 234.2h0.9M384.0 212.5h0.9M387.3 209.0h0.9M382.6 231.0h0.9M374.9 225.4h0.9M376.1 218.7h0.9M387.0 219.3h0.9M388.1 221.4h0.9M381.8 227.1h0.9M381.7 222.0h0.9M388.9 211.8h0.9M389.5 204.0h0.9M381.8 194.9h0.9M380.0 243.0h0.9M385.0 238.4h0.9M374.7 205.4h0.9M385.6 232.0h0.9M387.7 195.8h0.9M385.9 219.0h0.9M383.7 226.9h0.9M381.4 195.5h0.9M377.0 199.1h0.9M375.6 218.1h0.9M390.4 209.7h0.9M378.7 203.4h0.9M380.3 216.5h0.9M377.6 227.0h0.9M376.2 227.9h0.9M379.3 231.4h0.9M378.0 226.4h0.9M385.5 218.9h0.9M392.2 222.5h0.9M378.0 230.0h0.9M378.4 212.2h0.9M383.1 222.6h0.9M392.6 194.7h0.9M381.5 236.4h0.9M382.1 224.7h0.9M391.6 202.2h0.9M383.2 231.5h0.9M379.7 194.6h0.9M377.4 222.8h0.9M384.1 246.7h0.9M390.5 197.6h0.9M388.9 233.3h0.9M392.2 217.8h0.9M379.9 222.1h0.9M391.7 229.0h0.9M392.6 231.4h0.9M379.7 205.3h0.9M393.5 198.1h0.9M381.0 215.4h0.9M377.9 211.7h0.9M382.6 212.4h0.9M383.7 233.6h0.9M378.4 214.1h0.9M386.8 241.8h0.9M376.2 251.5h0.9M387.9 216.0h0.9M380.8 215.5h0.9M376.1 231.2h0.9M379.6 209.5h0.9M385.9 221.6h0.9M379.7 216.6h0.9M380.2 239.5h0.9M388.7 209.5h0.9M382.8 239.9h0.9M381.4 245.9h0.9M385.5 229.7h0.9M384.9 228.5h0.9M385.7 227.7h0.9M380.1 233.1h0.9M383.4 204.8h0.9M377.2 222.3h0.9M374.3 216.4h0.9M379.6 228.1h0.9M391.0 243.4h0.9M377.3 237.9h0.9M376.1 224.5h0.9M384.0 229.0h0.9M378.5 239.4h0.9M382.6 219.7h0.9M381.5 204.5h0.9M387.1 224.9h0.9M385.6 247.1h0.9M378.1 215.9h0.9M383.0 232.4h0.9M382.0 233.6h0.9M385.6 194.4h0.9M381.4 213.9h0.9M386.3 222.5h0.9M382.6 238.4h0.9M386.4 202.1h0.9M379.1 224.8h0.9M392.6 217.1h0.9M382.0 223.9h0.9M387.4 218.7h0.9M384.7 213.9h0.9M379.9 208.4h0.9M386.7 211.9h0.9M386.1 225.9h0.9M377.5 202.2h0.9M382.1 231.7h0.9M397.3 242.5h0.9M390.7 225.6h0.9M380.8 227.8h0.9M383.0 229.0h0.9M377.2 204.1h0.9M379.4 219.4h0.9M385.0 214.8h0.9M385.0 229.9h0.9M376.4 218.5h0.9M374.2 212.0h0.9M388.1 209.6h0.9M393.6 227.4h0.9M388.0 221.5h0.9M387.9 235.9h0.9M383.6 212.3h0.9M379.9 248.1h0.9M382.0 213.3h0.9M379.0 195.4h0.9M380.2 224.7h0.9M380.2 208.9h0.9M385.3 226.7h0.9M380.5 224.5h0.9M377.5 232.6h0.9M377.4 215.1h0.9M383.8 213.9h0.9M376.5 250.6h0.9M391.6 194.6h0.9M383.7 201.5h0.9M384.8 201.0h0.9M386.3 227.8h0.9M392.7 237.6h0.9M380.4 233.8h0.9M380.4 218.4h0.9M380.2 194.3h0.9M381.7 227.7h0.9M383.6 197.0h0.9M379.3 229.9h0.9M389.2 243.3h0.9M380.3 231.2h0.9M387.0 210.6h0.9M380.9 205.7h0.9M389.3 200.6h0.9M377.8 215.2h0.9M381.2 250.8h0.9M384.6 207.8h0.9M386.3 225.0h0.9M384.6 219.1h0.9M385.6 202.9h0.9M376.2 213.8h0.9M376.7 230.2h0.9M394.0 238.1h0.9M385.5 224.9h0.9M379.1 201.0h0.9M386.1 198.4h0.9M384.7 217.9h0.9M387.3 220.7h0.9M383.6 211.5h0.9M386.9 235.3h0.9M390.8 205.5h0.9M377.7 230.2h0.9M384.8 197.8h0.9M379.9 242.9h0.9M375.1 243.4h0.9M380.5 204.9h0.9M395.4 221.4h0.9M381.5 203.0h0.9M384.9 213.1h0.9M378.2 240.2h0.9M385.5 207.0h0.9M391.4 219.2h0.9M385.9 222.2h0.9M389.7 229.0h0.9M381.0 230.5h0.9M380.8 222.0h0.9M392.3 204.5h0.9M377.1 214.1h0.9M380.2 239.0h0.9M392.0 213.4h0.9M384.1 214.7h0.9M386.8 229.7h0.9M387.3 231.2h0.9M394.0 217.5h0.9M387.0 217.3h0.9M383.2 223.2h0.9M382.7 225.1h0.9M378.2 217.8h0.9M379.6 202.9h0.9M379.0 212.7h0.9M382.2 197.2h0.9M381.5 203.5h0.9M378.4 222.8h0.9M389.3 224.2h0.9M380.2 213.6h0.9M390.6 196.2h0.9M389.5 198.0h0.9M379.4 220.7h0.9M381.7 244.3h0.9M385.8 219.3h0.9M388.4 220.6h0.9M378.4 236.4h0.9M391.5 238.7h0.9M376.3 247.9h0.9M380.6 231.2h0.9M373.8 205.1h0.9M389.7 227.2h0.9M385.5 217.3h0.9M383.0 223.4h0.9M387.3 216.1h0.9M377.9 214.7h0.9M394.2 209.9h0.9M382.5 247.8h0.9M389.0 221.8h0.9M387.2 216.0h0.9M377.9 234.7h0.9M383.8 243.5h0.9M381.5 214.5h0.9M385.0 217.2h0.9M381.2 206.9h0.9M384.4 224.7h0.9M393.4 219.6h0.9M396.0 213.5h0.9M378.4 217.6h0.9M381.9 197.8h0.9M386.3 207.2h0.9M386.6 248.2h0.9M390.1 222.9h0.9M380.1 216.2h0.9M388.5 212.4h0.9M385.4 234.2h0.9M377.8 211.4h0.9M385.6 220.1h0.9M382.3 212.2h0.9M382.6 247.2h0.9M390.7 196.3h0.9M383.3 221.4h0.9M383.2 199.7h0.9M382.3 222.2h0.9M379.1 224.6h0.9M383.6 225.7h0.9M382.1 213.3h0.9M384.1 235.9h0.9M388.1 218.8h0.9M380.4 235.6h0.9M386.1 233.0h0.9M381.4 207.4h0.9M384.1 210.8h0.9M389.5 232.5h0.9M390.6 235.2h0.9M380.3 207.4h0.9M388.5 234.9h0.9M383.3 203.1h0.9M374.3 223.9h0.9M378.3 210.0h0.9M385.5 235.4h0.9M390.4 219.4h0.9M381.0 229.4h0.9M376.5 202.0h0.9M383.1 243.0h0.9M388.8 219.9h0.9M388.8 214.0h0.9M376.3 195.4h0.9M384.5 233.2h0.9M385.1 219.5h0.9M380.7 236.0h0.9M382.7 198.8h0.9M390.8 210.5h0.9M385.2 220.1h0.9M389.0 223.6h0.9M390.0 223.1h0.9M380.4 212.5h0.9M386.7 207.8h0.9M388.3 216.5h0.9M377.7 207.2h0.9M382.2 246.0h0.9M387.4 220.3h0.9M377.8 248.0h0.9M381.4 220.0h0.9M380.6 239.6h0.9M384.0 213.3h0.9M384.1 205.3h0.9M377.0 217.6h0.9M394.3 203.7h0.9M382.2 196.8h0.9M384.0 223.1h0.9M387.2 200.4h0.9M379.6 210.5h0.9M381.9 219.4h0.9M380.1 231.7h0.9M397.6 237.1h0.9M391.7 204.2h0.9M389.0 220.4h0.9M390.1 235.6h0.9M386.7 195.3h0.9M383.8 212.6h0.9M385.6 220.6h0.9M389.0 196.4h0.9M378.8 218.9h0.9M384.8 214.1h0.9M382.8 220.8h0.9M389.0 218.3h0.9M384.4 193.3h0.9M385.3 218.6h0.9M383.0 209.3h0.9M380.6 232.2h0.9M385.0 219.6h0.9M380.2 223.1h0.9M389.8 219.7h0.9M380.9 202.6h0.9M383.6 206.5h0.9M374.8 232.8h0.9M378.9 247.1h0.9M382.4 200.5h0.9M376.7 230.6h0.9M385.3 223.1h0.9M381.9 227.1h0.9M391.8 227.2h0.9M382.1 199.4h0.9M385.5 243.1h0.9M386.7 201.5h0.9M384.1 239.1h0.9M379.4 227.3h0.9M389.9 244.1h0.9M373.9 194.3h0.9M385.1 230.4h0.9M381.0 219.7h0.9M380.7 237.7h0.9M375.7 210.0h0.9M374.2 206.6h0.9M382.9 220.4h0.9M393.2 216.7h0.9M385.0 225.2h0.9M384.5 241.6h0.9M383.8 222.2h0.9M382.4 220.1h0.9M382.7 234.7h0.9M383.1 221.0h0.9M382.7 231.2h0.9M380.3 233.9h0.9M379.7 230.2h0.9M394.0 223.4h0.9M382.5 202.6h0.9M387.2 220.2h0.9M388.2 210.3h0.9M386.0 246.7h0.9M385.3 215.2h0.9M375.6 219.9h0.9M386.8 228.8h0.9M376.6 204.8h0.9M377.4 204.9h0.9M381.4 223.9h0.9M394.0 222.9h0.9M391.3 195.6h0.9M391.8 231.8h0.9M385.5 232.2h0.9M386.5 248.3h0.9M387.6 194.3h0.9M382.5 239.6h0.9M381.0 210.3h0.9M381.0 224.7h0.9M384.1 210.8h0.9M386.1 229.1h0.9M377.7 203.5h0.9M383.1 209.7h0.9M379.5 218.0h0.9M383.2 228.4h0.9M387.8 226.5h0.9M389.4 205.7h0.9M386.5 225.5h0.9M377.0 210.0h0.9M385.5 221.1h0.9M375.8 211.8h0.9M391.7 232.5h0.9M383.5 240.0h0.9M377.8 217.5h0.9M388.5 215.0h0.9M376.6 228.7h0.9M383.9 201.5h0.9M381.3 199.1h0.9M397.9 209.9h0.9M383.3 209.5h0.9M377.3 213.3h0.9M384.2 246.0h0.9M384.6 243.2h0.9M376.9 221.1h0.9M380.5 196.8h0.9M404.4 216.4h0.9M384.4 208.8h0.9M379.7 204.7h0.9M391.4 201.6h0.9M384.7 205.1h0.9M378.5 205.4h0.9M384.5 206.6h0.9M383.3 204.2h0.9M388.5 209.7h0.9M381.6 209.8h0.9M379.9 202.9h0.9M386.2 204.9h0.9M384.4 209.5h0.9M381.5 213.0h0.9M375.2 204.5h0.9M388.6 204.1h0.9M387.0 209.5h0.9M380.9 207.5h0.9M391.6 202.6h0.9M380.6 197.7h0.9M388.0 199.2h0.9M399.7 207.4h0.9M378.0 202.3h0.9M394.3 208.0h0.9M379.7 210.1h0.9M382.8 217.1h0.9M382.3 207.5h0.9M388.7 201.4h0.9M384.6 210.9h0.9M388.4 203.6h0.9M388.0 214.4h0.9M390.8 206.8h0.9M387.4 194.7h0.9M386.3 201.1h0.9M389.7 200.4h0.9M388.1 197.8h0.9M390.6 199.7h0.9M385.3 207.4h0.9M383.6 204.0h0.9M391.6 214.5h0.9M375.2 198.6h0.9M389.4 209.6h0.9M382.8 204.6h0.9M384.4 217.5h0.9M384.4 196.9h0.9M376.6 196.4h0.9M393.0 201.7h0.9M396.7 207.8h0.9M387.7 207.8h0.9M390.0 209.5h0.9M379.9 200.7h0.9M382.4 204.6h0.9M384.1 196.7h0.9M381.5 214.6h0.9M397.7 198.9h0.9M387.7 203.8h0.9M380.6 208.2h0.9M385.1 213.9h0.9M388.1 202.2h0.9M390.4 199.8h0.9M390.6 208.0h0.9M375.4 202.8h0.9M387.3 208.5h0.9M386.4 203.9h0.9M383.5 202.3h0.9M385.5 197.7h0.9M389.2 202.1h0.9M388.5 201.0h0.9M387.9 204.8h0.9M390.6 206.7h0.9M390.8 203.0h0.9M385.2 202.5h0.9M378.3 203.3h0.9M391.7 208.6h0.9M380.6 205.8h0.9M389.8 195.9h0.9M387.5 206.0h0.9M389.8 205.5h0.9M375.5 192.1h0.9M396.9 201.7h0.9M392.8 211.5h0.9M386.0 197.2h0.9M393.3 203.8h0.9M388.5 206.8h0.9M391.0 210.0h0.9M377.4 195.7h0.9M386.3 204.1h0.9M390.0 203.2h0.9M384.5 216.0h0.9M393.4 210.9h0.9M391.4 199.3h0.9M385.0 203.6h0.9M379.2 198.9h0.9M386.4 196.8h0.9M388.6 206.8h0.9M384.1 202.0h0.9M389.0 206.8h0.9M387.6 196.8h0.9M376.2 216.1h0.9M381.8 201.8h0.9M375.0 199.3h0.9M381.3 208.7h0.9M383.1 201.1h0.9M381.1 201.4h0.9M376.5 205.6h0.9M392.3 204.9h0.9M382.4 211.5h0.9M388.3 197.9h0.9M382.2 200.4h0.9M385.2 211.2h0.9M381.5 203.1h0.9M386.1 197.0h0.9M382.8 207.6h0.9M392.0 192.9h0.9M389.6 202.3h0.9M392.9 207.7h0.9M396.8 205.8h0.9M383.2 199.1h0.9M377.3 207.3h0.9M388.5 208.8h0.9M387.5 195.2h0.9M383.2 202.6h0.9M386.4 208.5h0.9M393.6 205.7h0.9M373.7 198.0h0.9M378.6 205.4h0.9M384.2 210.6h0.9M391.7 201.3h0.9M390.9 204.1h0.9M388.1 211.9h0.9M378.9 203.6h0.9M394.3 199.5h0.9M386.7 204.8h0.9M383.1 196.3h0.9M381.6 198.2h0.9M391.7 205.5h0.9M389.5 197.0h0.9M388.4 204.8h0.9M391.5 199.8h0.9M390.1 212.1h0.9M395.8 198.5h0.9M379.1 195.4h0.9M391.0 207.5h0.9M387.5 198.9h0.9M392.7 213.4h0.9M385.3 203.3h0.9M392.3 207.0h0.9M393.2 201.6h0.9M387.4 202.0h0.9M382.2 202.3h0.9M383.9 207.0h0.9M383.8 204.4h0.9M380.9 196.8h0.9M393.7 198.2h0.9M395.9 209.5h0.9M383.1 204.1h0.9M384.5 200.5h0.9M392.7 203.3h0.9M391.0 200.0h0.9M381.6 211.8h0.9M383.9 197.5h0.9M384.5 210.2h0.9M384.6 199.8h0.9M389.2 209.8h0.9M384.3 202.1h0.9M383.4 219.9h0.9M384.4 214.3h0.9M384.7 206.4h0.9M373.8 205.0h0.9M385.8 202.1h0.9M383.2 196.0h0.9M377.0 205.0h0.9M381.8 203.5h0.9M384.5 201.0h0.9M381.3 214.9h0.9M379.2 201.0h0.9M383.8 197.2h0.9M380.0 209.1h0.9M390.8 204.8h0.9M404.1 208.9h0.9M392.6 199.2h0.9M391.7 213.9h0.9M383.3 214.6h0.9M380.9 197.4h0.9M385.3 199.3h0.9M389.2 197.5h0.9M386.0 192.5h0.9M385.3 210.2h0.9M384.0 205.8h0.9M391.8 197.6h0.9M378.2 204.5h0.9M387.1 202.4h0.9M380.0 211.1h0.9M378.9 202.5h0.9M385.3 208.3h0.9M383.0 199.2h0.9M397.0 199.1h0.9M390.1 203.1h0.9M382.8 203.7h0.9M384.1 205.8h0.9M385.9 198.3h0.9M383.3 217.7h0.9M396.1 207.8h0.9M386.9 202.2h0.9M393.5 201.4h0.9M380.8 208.1h0.9M380.0 199.4h0.9M393.8 194.6h0.9M385.1 204.7h0.9M387.0 195.5h0.9M384.2 202.0h0.9M396.5 209.9h0.9M381.2 209.1h0.9M389.3 203.3h0.9M384.1 202.4h0.9M376.7 200.3h0.9M390.9 212.5h0.9M396.1 201.8h0.9M384.0 196.6h0.9M390.2 194.3h0.9M379.6 197.5h0.9M387.8 208.9h0.9M380.3 214.6h0.9M386.4 199.1h0.9M387.5 203.9h0.9M390.3 206.0h0.9M398.1 210.9h0.9M381.9 208.6h0.9M389.9 198.1h0.9M381.2 199.3h0.9M384.3 211.2h0.9M382.3 204.4h0.9M389.7 209.7h0.9M387.4 197.9h0.9M398.1 209.1h0.9M393.3 213.5h0.9M393.6 206.4h0.9M388.2 207.7h0.9M376.9 208.8h0.9M380.0 206.5h0.9M379.7 208.2h0.9M382.7 218.6h0.9M386.6 207.0h0.9M380.4 202.3h0.9M385.2 202.3h0.9M383.0 198.9h0.9M389.9 201.8h0.9M380.9 206.1h0.9M380.9 203.0h0.9M382.6 198.6h0.9M384.2 199.2h0.9M378.4 206.1h0.9M383.8 195.4h0.9M383.3 205.1h0.9M388.0 206.2h0.9M387.0 207.5h0.9M382.7 199.3h0.9M389.0 201.6h0.9M385.6 207.8h0.9M390.9 211.2h0.9M381.6 201.8h0.9M388.7 195.6h0.9M378.3 207.6h0.9M382.0 198.6h0.9M390.1 207.1h0.9M390.8 202.1h0.9M383.9 202.0h0.9M387.2 192.1h0.9M381.6 208.1h0.9M381.1 203.6h0.9M386.3 207.0h0.9M382.8 197.4h0.9M399.8 199.8h0.9M395.3 193.7h0.9M386.2 202.9h0.9M396.4 215.9h0.9M391.1 198.1h0.9M381.0 199.6h0.9M382.6 205.5h0.9M381.1 202.6h0.9M394.0 212.4h0.9M374.9 198.5h0.9M383.4 211.6h0.9M383.7 215.1h0.9M387.6 212.4h0.9M380.7 202.2h0.9M391.4 207.3h0.9M374.9 202.4h0.9M386.6 207.7h0.9M381.9 214.2h0.9M386.4 212.5h0.9M387.9 204.5h0.9M383.7 197.2h0.9M390.5 208.4h0.9M390.9 201.8h0.9M379.8 201.8h0.9M383.8 203.9h0.9M391.2 198.7h0.9M382.8 208.0h0.9M390.7 216.9h0.9M388.6 199.1h0.9M379.6 199.4h0.9M386.0 205.5h0.9M385.2 200.4h0.9M384.5 203.6h0.9M388.9 204.5h0.9M381.0 197.2h0.9M394.0 203.5h0.9M384.6 203.9h0.9M392.0 202.2h0.9M386.6 202.6h0.9M388.9 198.1h0.9M386.7 210.0h0.9M392.3 207.6h0.9M387.2 213.2h0.9M389.6 212.1h0.9M378.7 197.6h0.9M390.1 202.5h0.9M383.1 198.5h0.9M394.0 197.1h0.9M386.2 195.9h0.9M384.6 217.1h0.9M399.4 201.1h0.9M379.8 213.5h0.9M380.7 193.6h0.9M387.6 197.7h0.9M377.3 210.5h0.9M381.4 197.8h0.9M386.5 202.9h0.9M392.0 204.6h0.9M394.6 210.6h0.9M395.7 210.5h0.9M386.0 207.2h0.9M385.7 195.0h0.9M378.9 208.3h0.9M378.3 203.6h0.9M379.7 205.5h0.9M384.5 201.3h0.9M380.8 191.1h0.9M386.0 196.5h0.9M383.9 206.2h0.9M391.5 208.1h0.9M394.0 195.8h0.9M389.4 213.1h0.9M387.8 197.6h0.9M387.8 201.0h0.9M381.9 210.2h0.9M384.6 197.5h0.9M381.8 215.4h0.9M380.8 207.9h0.9M386.6 210.8h0.9M384.0 198.5h0.9M382.0 198.0h0.9M400.3 205.1h0.9M383.8 211.3h0.9M389.3 203.0h0.9M389.1 205.6h0.9M392.0 213.6h0.9M383.8 203.8h0.9M384.6 211.1h0.9M387.8 208.6h0.9M390.7 200.3h0.9M386.3 212.1h0.9M390.8 208.7h0.9M384.0 201.9h0.9M380.7 202.4h0.9M385.2 195.7h0.9M392.2 199.6h0.9M387.0 207.5h0.9M382.5 193.5h0.9M391.1 206.4h0.9M384.2 210.6h0.9M390.7 198.5h0.9M385.1 193.8h0.9M384.1 212.2h0.9M380.8 208.8h0.9M377.1 202.3h0.9M390.9 214.0h0.9M388.2 208.4h0.9M375.9 215.0h0.9M399.6 207.5h0.9M386.0 205.5h0.9M385.8 200.5h0.9M382.0 198.7h0.9M381.3 213.1h0.9M387.8 212.4h0.9M385.4 236.6h0.9M382.7 201.6h0.9M393.1 225.9h0.9M375.7 223.6h0.9M384.5 204.6h0.9M386.6 203.1h0.9M378.0 238.4h0.9M378.5 226.4h0.9M383.2 243.4h0.9M379.7 222.4h0.9M379.0 234.0h0.9M378.7 216.1h0.9M380.6 199.7h0.9M374.2 209.6h0.9M382.0 230.0h0.9M380.9 224.7h0.9M380.8 220.5h0.9M376.8 220.5h0.9M382.0 222.5h0.9M379.7 207.0h0.9M378.1 203.7h0.9M379.5 205.3h0.9M386.5 245.4h0.9M378.5 236.4h0.9M381.1 191.5h0.9M389.6 248.7h0.9M380.0 223.1h0.9M379.9 221.6h0.9M379.6 247.2h0.9M377.6 229.5h0.9M392.0 245.7h0.9M386.9 209.8h0.9M379.1 245.5h0.9M384.4 240.6h0.9M378.1 233.4h0.9M384.8 252.5h0.9M389.6 236.4h0.9M380.0 232.4h0.9M376.3 222.4h0.9M386.1 204.3h0.9M381.2 243.3h0.9M393.5 234.1h0.9M379.3 226.4h0.9M375.4 232.2h0.9M388.5 250.9h0.9M382.3 203.7h0.9M379.6 206.8h0.9M382.5 241.9h0.9M392.5 240.3h0.9M384.2 244.6h0.9M381.4 214.0h0.9M395.9 218.8h0.9M389.2 233.1h0.9M379.7 197.8h0.9M386.7 197.5h0.9M382.1 241.9h0.9M382.0 232.9h0.9M397.1 202.9h0.9M380.7 223.6h0.9M376.9 195.7h0.9M387.2 226.9h0.9M380.3 211.1h0.9M384.6 236.7h0.9M379.0 205.9h0.9M380.8 220.4h0.9M383.8 218.8h0.9M382.2 199.3h0.9M384.4 237.3h0.9M380.0 240.1h0.9M379.0 252.3h0.9M388.9 229.1h0.9M392.7 250.0h0.9M379.7 210.5h0.9M387.8 231.3h0.9M388.8 202.2h0.9M375.8 252.2h0.9M380.8 243.5h0.9M375.0 197.6h0.9M375.9 232.6h0.9M388.3 207.6h0.9M384.6 228.6h0.9M376.7 224.2h0.9M386.0 227.4h0.9M385.8 208.0h0.9M378.9 202.4h0.9M390.9 247.8h0.9M389.6 198.8h0.9M373.7 244.4h0.9M392.0 251.5h0.9M387.1 195.1h0.9M381.8 206.4h0.9M380.9 206.7h0.9M382.0 220.2h0.9M380.6 198.6h0.9M378.8 211.4h0.9M384.6 197.4h0.9M383.7 240.4h0.9M383.3 240.7h0.9M380.8 243.1h0.9M379.0 241.7h0.9M377.9 196.0h0.9M396.3 204.7h0.9M386.3 247.6h0.9M382.0 196.8h0.9M380.1 230.9h0.9M387.4 232.6h0.9M389.1 205.3h0.9M377.9 244.8h0.9M382.6 230.0h0.9M379.0 194.8h0.9M374.2 245.8h0.9M383.3 227.5h0.9M374.9 221.4h0.9M382.3 208.2h0.9M374.6 222.9h0.9M382.1 223.2h0.9M382.6 244.8h0.9M381.2 222.4h0.9M378.0 227.1h0.9M376.2 222.5h0.9M378.8 233.5h0.9M387.3 239.5h0.9M377.1 233.0h0.9M385.4 210.4h0.9M385.2 212.9h0.9M377.0 252.7h0.9M382.3 236.4h0.9M375.6 248.1h0.9M388.7 200.9h0.9M383.7 199.9h0.9M377.0 240.8h0.9M377.2 219.7h0.9M384.8 236.0h0.9M392.5 238.4h0.9M373.7 201.9h0.9M381.5 203.4h0.9M382.5 212.0h0.9M385.0 199.1h0.9M388.1 231.4h0.9M378.2 233.4h0.9M384.4 211.3h0.9M393.3 237.6h0.9M383.7 245.3h0.9M380.7 234.0h0.9M386.5 200.0h0.9M390.5 224.9h0.9M380.2 194.2h0.9M380.7 251.6h0.9M388.2 200.0h0.9M380.0 251.0h0.9M380.7 237.2h0.9M385.8 202.1h0.9M389.4 196.0h0.9M383.9 202.6h0.9M388.2 239.8h0.9M394.0 208.7h0.9M385.5 199.7h0.9M381.4 214.6h0.9M382.9 239.8h0.9M379.4 224.6h0.9M383.6 193.6h0.9M376.8 197.1h0.9M380.8 238.2h0.9M375.0 203.3h0.9M381.2 243.6h0.9M386.1 234.5h0.9M387.4 193.4h0.9M390.0 219.8h0.9M381.5 235.4h0.9M392.2 233.3h0.9M382.6 230.6h0.9M383.7 233.9h0.9M393.4 246.5h0.9M382.7 213.3h0.9M381.0 231.1h0.9M381.0 193.0h0.9M376.1 211.7h0.9M380.2 215.4h0.9M382.9 237.2h0.9M387.1 245.7h0.9M385.1 222.9h0.9M381.6 214.9h0.9M390.0 231.4h0.9M380.0 212.4h0.9M387.9 216.0h0.9M387.1 246.0h0.9M376.8 226.2h0.9M395.4 226.9h0.9M397.0 227.9h0.9M383.0 234.6h0.9M384.4 235.9h0.9M379.7 221.1h0.9M378.0 238.5h0.9M373.7 196.5h0.9M390.4 224.0h0.9M382.7 195.6h0.9M374.2 244.6h0.9M386.3 195.8h0.9M381.4 246.2h0.9M387.1 203.9h0.9M379.9 200.0h0.9M383.2 234.7h0.9M388.1 248.9h0.9M376.7 231.6h0.9M388.2 192.4h0.9M382.0 199.2h0.9M383.1 209.5h0.9M379.2 223.5h0.9M380.5 197.8h0.9M381.8 232.8h0.9M379.8 220.6h0.9M383.5 214.0h0.9M383.9 202.1h0.9M382.0 195.6h0.9M377.2 197.9h0.9M376.5 251.4h0.9M380.6 234.7h0.9M378.3 218.0h0.9M379.2 223.5h0.9M376.4 196.6h0.9M387.3 217.0h0.9M388.0 222.3h0.9M381.5 237.6h0.9M385.7 214.6h0.9M384.6 192.0h0.9M389.9 202.9h0.9M384.5 236.6h0.9M387.0 192.3h0.9M383.9 249.7h0.9M380.2 249.6h0.9M374.4 218.7h0.9M383.0 239.3h0.9M380.7 231.1h0.9M382.6 196.1h0.9M378.6 223.3h0.9M374.8 202.1h0.9M376.3 226.1h0.9M386.5 241.7h0.9M381.1 250.4h0.9M379.0 216.9h0.9M376.3 219.9h0.9M383.7 208.3h0.9M383.7 201.7h0.9M386.6 245.1h0.9M378.6 225.8h0.9M392.2 235.0h0.9M374.4 218.7h0.9M426.2 247.4h0.9M422.9 251.3h0.9M431.9 239.7h0.9M423.6 244.0h0.9M414.2 230.1h0.9M430.0 236.2h0.9M436.4 230.9h0.9M420.5 234.7h0.9M428.5 250.7h0.9M418.7 237.8h0.9M431.3 230.9h0.9M424.2 226.4h0.9M429.2 243.4h0.9M428.5 238.6h0.9M430.2 235.5h0.9M429.0 243.3h0.9M431.5 240.8h0.9M426.4 242.4h0.9M419.6 221.8h0.9M432.8 237.7h0.9M421.7 231.7h0.9M425.4 237.1h0.9M422.9 244.8h0.9M421.5 250.4h0.9M428.8 222.5h0.9M420.9 237.0h0.9M427.2 233.0h0.9M426.1 237.9h0.9M421.3 237.0h0.9M435.6 231.1h0.9M421.8 242.0h0.9M431.7 245.2h0.9M423.4 235.9h0.9M426.9 234.7h0.9M427.7 245.6h0.9M428.3 236.4h0.9M425.2 251.5h0.9M429.1 237.2h0.9M422.9 251.9h0.9M431.2 244.1h0.9M434.8 221.5h0.9M426.5 233.9h0.9M423.0 237.1h0.9M428.3 240.9h0.9M425.5 225.4h0.9M428.4 241.6h0.9M435.0 244.3h0.9M426.1 226.9h0.9M437.5 230.8h0.9M426.9 242.8h0.9M428.2 247.7h0.9M421.7 230.7h0.9M426.8 226.2h0.9M423.5 248.1h0.9M427.3 235.6h0.9M423.7 236.9h0.9M425.9 227.5h0.9M429.4 225.8h0.9M431.5 233.7h0.9M416.4 223.5h0.9M427.3 229.2h0.9M433.7 248.1h0.9M435.0 244.0h0.9M431.8 231.4h0.9M431.6 232.8h0.9M425.8 225.1h0.9M426.3 239.9h0.9M425.8 227.2h0.9M429.9 244.2h0.9M425.7 243.1h0.9M430.3 228.2h0.9M425.9 220.8h0.9M421.7 240.1h0.9M422.3 239.8h0.9M427.6 219.1h0.9M424.0 249.3h0.9M426.1 237.5h0.9M423.1 223.0h0.9M425.3 229.2h0.9M426.5 220.2h0.9M432.0 251.0h0.9M422.8 239.2h0.9M422.2 243.7h0.9M422.5 235.3h0.9M431.6 240.9h0.9M424.7 223.7h0.9M419.2 246.7h0.9M428.2 237.0h0.9M431.4 237.7h0.9M422.9 235.6h0.9M425.6 236.4h0.9M436.7 241.4h0.9M427.2 234.4h0.9M423.1 228.1h0.9M418.0 232.6h0.9M419.5 220.8h0.9M422.0 219.3h0.9M431.9 247.1h0.9M428.9 215.1h0.9M426.1 228.0h0.9M418.6 234.3h0.9M431.0 240.3h0.9M419.8 230.9h0.9M422.8 246.2h0.9M425.6 228.2h0.9M422.1 219.8h0.9M422.4 244.1h0.9M417.8 238.1h0.9M425.6 243.4h0.9M421.1 244.2h0.9M419.0 236.2h0.9M425.1 237.5h0.9M421.8 243.8h0.9M436.1 249.3h0.9M421.9 231.6h0.9M429.2 237.7h0.9M422.8 247.0h0.9M428.3 245.2h0.9M425.3 247.4h0.9M424.0 227.0h0.9M426.0 224.6h0.9M431.4 242.7h0.9M418.8 238.0h0.9M429.7 233.5h0.9M427.8 231.5h0.9M425.7 235.8h0.9M428.1 228.3h0.9M421.2 239.3h0.9M423.8 240.9h0.9M423.9 225.3h0.9M429.2 238.8h0.9M429.2 233.6h0.9M424.5 247.3h0.9M418.7 251.3h0.9M428.2 236.0h0.9M426.4 241.6h0.9M422.7 238.9h0.9M421.9 220.8h0.9M426.9 237.3h0.9M428.8 241.2h0.9M429.0 243.2h0.9M421.5 246.9h0.9M437.6 231.7h0.9M420.6 242.3h0.9M430.0 245.1h0.9M432.7 224.7h0.9M427.7 240.4h0.9M431.4 228.9h0.9M426.1 233.3h0.9M425.3 235.3h0.9M425.4 221.4h0.9M425.9 237.1h0.9M424.4 206.2h0.9M423.0 230.9h0.9M422.3 250.2h0.9M430.0 234.9h0.9M421.8 240.5h0.9M423.4 249.2h0.9M430.8 235.5h0.9M428.7 229.7h0.9M419.2 243.7h0.9M433.1 233.9h0.9M423.7 221.2h0.9M435.3 226.3h0.9M421.8 234.8h0.9M431.3 237.0h0.9M425.9 236.7h0.9M429.7 236.2h0.9M426.7 235.9h0.9M421.2 248.0h0.9M423.0 225.2h0.9M424.1 236.8h0.9M429.6 224.0h0.9M420.5 238.0h0.9M427.7 227.1h0.9M421.1 238.0h0.9M425.4 222.7h0.9M422.2 249.2h0.9M421.4 245.5h0.9M419.4 249.2h0.9M432.9 231.1h0.9M423.1 241.9h0.9M420.6 241.2h0.9M431.3 238.7h0.9M427.4 235.2h0.9M430.3 229.5h0.9M432.9 236.3h0.9M424.6 222.6h0.9M424.1 238.5h0.9M431.4 222.7h0.9M425.5 230.6h0.9M420.8 236.5h0.9M422.7 243.9h0.9M414.4 242.8h0.9M417.8 219.9h0.9M428.3 233.6h0.9M426.6 228.2h0.9M421.5 230.2h0.9M425.8 229.3h0.9M424.2 229.2h0.9M427.0 226.8h0.9M417.0 214.1h0.9M425.9 237.3h0.9M430.2 230.2h0.9M421.1 223.8h0.9M429.3 231.2h0.9M430.3 235.8h0.9M424.8 220.6h0.9M423.1 243.2h0.9M423.4 242.3h0.9M418.9 245.2h0.9M438.0 246.0h0.9M427.4 226.0h0.9M423.7 230.9h0.9M426.8 219.3h0.9M422.3 243.3h0.9M426.6 242.8h0.9M429.7 226.7h0.9M420.2 240.5h0.9M426.1 237.2h0.9M422.5 245.2h0.9M428.1 246.2h0.9M424.5 242.4h0.9M425.7 228.5h0.9M425.7 222.4h0.9M425.2 238.0h0.9M429.0 227.5h0.9M420.3 230.3h0.9M417.1 230.9h0.9M437.3 237.7h0.9M422.7 230.7h0.9M433.6 226.6h0.9M425.5 235.8h0.9M422.8 230.4h0.9M418.8 229.3h0.9M431.6 248.6h0.9M424.8 242.5h0.9M428.0 237.4h0.9M425.4 246.9h0.9M428.5 234.6h0.9M425.0 244.5h0.9M423.4 230.4h0.9M424.8 232.3h0.9M431.4 239.5h0.9M425.6 232.0h0.9M432.1 240.3h0.9M435.0 244.3h0.9M425.1 231.8h0.9M424.8 238.0h0.9M429.4 240.6h0.9M432.8 223.5h0.9M426.1 224.4h0.9M421.6 231.4h0.9M423.2 228.2h0.9M419.4 246.2h0.9M424.6 244.7h0.9M421.2 216.7h0.9M423.4 244.0h0.9M423.6 239.9h0.9M421.4 248.4h0.9M427.9 245.5h0.9M424.8 247.4h0.9M426.3 232.3h0.9M423.2 237.0h0.9M422.1 226.3h0.9M426.6 242.6h0.9M424.7 243.7h0.9M432.8 225.7h0.9M427.1 228.3h0.9M423.2 238.0h0.9M415.8 241.7h0.9M429.6 241.1h0.9M428.8 252.0h0.9M424.4 245.8h0.9M432.2 240.7h0.9M418.3 235.2h0.9M424.7 222.7h0.9M425.7 242.9h0.9M424.9 234.9h0.9M432.3 231.3h0.9M421.9 236.8h0.9M430.8 241.6h0.9M426.3 232.3h0.9M431.3 244.0h0.9M418.5 239.3h0.9M415.6 249.2h0.9M428.6 231.1h0.9M420.4 233.9h0.9M418.4 241.3h0.9M423.8 221.4h0.9M425.9 246.6h0.9M420.5 233.5h0.9M433.8 238.1h0.9M423.6 238.1h0.9M429.4 227.9h0.9M425.6 222.6h0.9M419.2 223.4h0.9M429.6 239.1h0.9M429.2 246.9h0.9M426.2 238.5h0.9M427.7 240.5h0.9M421.4 234.2h0.9M425.3 236.8h0.9M422.8 235.4h0.9M427.2 238.1h0.9M428.5 243.5h0.9M428.4 244.7h0.9M429.6 248.4h0.9M428.7 231.2h0.9M436.0 246.1h0.9M431.4 242.7h0.9M426.2 226.7h0.9M427.9 233.5h0.9M424.3 218.3h0.9M432.7 226.5h0.9M421.3 240.5h0.9M428.4 229.7h0.9M426.0 238.6h0.9M426.7 241.0h0.9M429.3 233.4h0.9M424.3 228.0h0.9M429.2 241.5h0.9M415.9 247.4h0.9M425.8 239.1h0.9M427.4 234.5h0.9M427.4 225.4h0.9M424.3 252.2h0.9M414.9 247.0h0.9M416.4 229.2h0.9M429.8 233.0h0.9M423.5 223.7h0.9M425.5 235.0h0.9M423.2 223.2h0.9M426.7 240.1h0.9M430.9 240.9h0.9M432.6 246.7h0.9M413.8 250.7h0.9M425.5 227.6h0.9M427.9 244.7h0.9M419.3 226.0h0.9M429.0 231.8h0.9M432.3 238.3h0.9M423.6 225.2h0.9M428.6 221.8h0.9M420.4 225.3h0.9M433.3 251.0h0.9M425.0 233.2h0.9M429.0 247.1h0.9M425.1 246.1h0.9M415.8 236.0h0.9M425.1 225.6h0.9M434.4 230.6h0.9M426.0 225.8h0.9M428.9 238.1h0.9M424.7 233.1h0.9M423.5 230.4h0.9M419.9 246.8h0.9M429.9 224.6h0.9M421.0 240.0h0.9M435.8 234.7h0.9M424.6 234.3h0.9M427.1 235.0h0.9M430.7 244.9h0.9M428.4 249.9h0.9M425.0 231.8h0.9M438.9 220.0h0.9M419.3 216.4h0.9M427.5 227.4h0.9M430.6 218.6h0.9M425.4 233.1h0.9M421.3 246.0h0.9M424.3 240.3h0.9M423.7 237.8h0.9M424.1 237.1h0.9M425.6 230.7h0.9M427.9 234.9h0.9M421.8 227.5h0.9M427.9 247.8h0.9M420.3 232.9h0.9M427.9 245.4h0.9M429.1 226.4h0.9M426.2 244.2h0.9M427.0 234.6h0.9M420.9 237.9h0.9M425.7 236.8h0.9M432.5 246.6h0.9M422.6 238.5h0.9M424.7 237.3h0.9M433.0 244.3h0.9M426.2 230.9h0.9M425.3 239.6h0.9M423.8 245.9h0.9M426.1 226.4h0.9M434.8 211.7h0.9M424.8 235.5h0.9M430.3 246.0h0.9M432.3 249.8h0.9M427.4 237.5h0.9M430.4 236.3h0.9M420.6 232.6h0.9M428.9 241.7h0.9M421.2 246.7h0.9M427.3 223.7h0.9M428.0 245.1h0.9M428.3 233.8h0.9M422.5 246.1h0.9M427.0 236.4h0.9M424.3 227.7h0.9M417.9 233.6h0.9M430.8 243.0h0.9M423.1 249.5h0.9M425.0 227.9h0.9M430.2 248.3h0.9M424.3 226.1h0.9M425.7 215.8h0.9M426.2 249.5h0.9M427.2 230.2h0.9M429.1 232.3h0.9M431.5 233.4h0.9M434.8 233.5h0.9M426.8 228.5h0.9M420.5 239.4h0.9M427.5 228.2h0.9M428.4 233.0h0.9M423.6 235.9h0.9M427.7 242.7h0.9M431.3 239.7h0.9M422.9 230.7h0.9M427.6 226.3h0.9M425.3 233.2h0.9M425.6 238.0h0.9M430.5 250.5h0.9M429.8 245.1h0.9M421.4 245.3h0.9M431.6 224.9h0.9M436.9 231.7h0.9M415.7 251.5h0.9M426.3 229.7h0.9M423.5 245.6h0.9M427.1 233.3h0.9M431.0 228.5h0.9M422.3 231.7h0.9M422.8 242.4h0.9M425.0 227.5h0.9M424.0 219.6h0.9M426.7 237.4h0.9M428.6 234.5h0.9M427.7 228.5h0.9M426.1 237.8h0.9M420.8 241.5h0.9M426.6 236.9h0.9M426.0 230.0h0.9M422.3 241.5h0.9M425.1 229.8h0.9M422.9 244.4h0.9M426.4 245.5h0.9M425.9 226.4h0.9M429.7 239.2h0.9M423.2 233.9h0.9M421.8 243.6h0.9M424.2 240.6h0.9M427.1 234.3h0.9M427.6 234.4h0.9M420.9 233.0h0.9M420.9 242.9h0.9M428.8 231.5h0.9M428.7 238.6h0.9M430.2 228.6h0.9M426.1 228.1h0.9M423.1 248.1h0.9M417.3 228.7h0.9M428.1 243.1h0.9M422.6 219.2h0.9M418.6 239.6h0.9M430.7 244.2h0.9M422.8 248.0h0.9M425.2 241.7h0.9M425.2 250.0h0.9M423.8 218.2h0.9M424.6 238.1h0.9M427.2 230.4h0.9M425.0 226.8h0.9M425.0 237.2h0.9M427.0 250.5h0.9M417.4 240.9h0.9M427.9 226.7h0.9M426.3 236.4h0.9M421.7 242.6h0.9M434.2 242.2h0.9M429.3 245.6h0.9M425.4 244.8h0.9M422.5 238.0h0.9M429.0 247.6h0.9M424.8 234.0h0.9M428.0 235.8h0.9M426.6 243.3h0.9M422.7 243.9h0.9M427.6 234.3h0.9M420.6 231.2h0.9M425.8 244.5h0.9M417.6 242.5h0.9M426.8 226.9h0.9M429.7 239.9h0.9M427.9 228.2h0.9M421.3 244.2h0.9M432.0 239.6h0.9M425.2 232.7h0.9M418.7 244.8h0.9M425.6 246.9h0.9M422.9 245.4h0.9M422.9 241.4h0.9M431.9 230.5h0.9M429.9 236.4h0.9M422.0 238.2h0.9M428.8 230.5h0.9M424.9 231.7h0.9M422.7 234.7h0.9M429.5 232.3h0.9M431.3 233.3h0.9M423.1 245.5h0.9M430.6 209.1h0.9M427.3 206.1h0.9M423.4 210.8h0.9M427.8 205.5h0.9M423.0 208.9h0.9M425.4 205.7h0.9M419.7 229.8h0.9M425.8 204.0h0.9M428.3 205.2h0.9M417.5 222.9h0.9M430.0 208.0h0.9M420.7 215.8h0.9M433.0 216.6h0.9M427.6 206.0h0.9M417.9 215.3h0.9M429.0 213.8h0.9M425.0 221.2h0.9M421.7 219.5h0.9M428.3 209.3h0.9M425.5 213.6h0.9M427.3 207.2h0.9M424.1 213.5h0.9M425.1 213.1h0.9M426.0 211.9h0.9M423.0 219.1h0.9M422.5 211.1h0.9M421.5 206.2h0.9M426.8 212.7h0.9M424.5 215.7h0.9M424.3 217.0h0.9M432.1 215.1h0.9M424.0 222.8h0.9M427.8 203.1h0.9M430.3 214.2h0.9M428.4 206.2h0.9M421.7 209.2h0.9M427.2 206.3h0.9M422.2 218.6h0.9M422.5 213.7h0.9M421.5 202.9h0.9M424.7 212.3h0.9M419.4 218.7h0.9M428.2 218.2h0.9M423.0 206.2h0.9M424.6 214.0h0.9M424.3 209.5h0.9M421.1 208.7h0.9M424.7 210.1h0.9M431.6 211.4h0.9M426.8 210.3h0.9M424.3 207.3h0.9M423.1 204.2h0.9M416.8 220.9h0.9M420.8 215.5h0.9M424.5 209.6h0.9M427.9 209.7h0.9M426.7 210.8h0.9M428.8 218.6h0.9M425.3 219.4h0.9M427.0 222.2h0.9M424.5 203.9h0.9M425.8 214.4h0.9M423.6 211.8h0.9M423.9 205.6h0.9M431.7 208.4h0.9M420.8 203.7h0.9M421.7 212.8h0.9M430.8 216.5h0.9M422.1 205.7h0.9M420.6 212.5h0.9M408.4 229.8h0.9M405.6 211.6h0.9M409.3 233.9h0.9M407.6 245.6h0.9M401.0 235.7h0.9M405.7 226.9h0.9M407.7 233.6h0.9M405.6 252.6h0.9M404.4 246.2h0.9M402.0 236.6h0.9M409.2 211.6h0.9M407.1 232.1h0.9M409.3 236.9h0.9M404.7 221.2h0.9M416.5 227.0h0.9M403.7 227.2h0.9M403.8 237.3h0.9M399.8 246.4h0.9M404.0 241.4h0.9M396.7 229.4h0.9M403.8 230.8h0.9M402.4 238.3h0.9M406.6 224.4h0.9M397.3 242.8h0.9M403.7 246.5h0.9M408.4 233.8h0.9M399.4 231.1h0.9M402.1 248.3h0.9M398.4 244.8h0.9M399.0 228.8h0.9M399.5 227.5h0.9M403.3 239.0h0.9M402.7 242.4h0.9M411.8 236.7h0.9M400.5 233.1h0.9M404.6 231.1h0.9M409.5 247.4h0.9M412.8 240.6h0.9M394.6 233.5h0.9M407.6 226.3h0.9M402.6 244.8h0.9M405.5 222.8h0.9M402.7 201.8h0.9M405.0 221.8h0.9M404.8 222.2h0.9M417.4 217.0h0.9M444.1 252.0h0.9M416.4 225.5h0.9M381.3 225.9h0.9M443.7 206.0h0.9M432.0 206.7h0.9M427.4 208.4h0.9M418.5 238.9h0.9M375.9 242.9h0.9M413.0 206.1h0.9M396.7 225.3h0.9M429.5 202.0h0.9M378.8 205.3h0.9M421.4 215.9h0.9M431.1 235.9h0.9M401.3 227.4h0.9M384.5 228.7h0.9M422.4 205.6h0.9M423.8 199.6h0.9M446.9 224.9h0.9M443.1 232.3h0.9M389.7 236.3h0.9M419.9 214.4h0.9M425.8 238.0h0.9M424.8 204.5h0.9M446.4 247.2h0.9M406.3 248.3h0.9M448.5 212.3h0.9M387.9 206.1h0.9M410.5 199.9h0.9" stroke="#000" stroke-width="0.9" fill="none" filter="url(#bl)"/>
<rect x="283.5" y="191.5" width="75.5" height="61.0" fill="none" stroke="#333" stroke-width="0.8"/>
<rect x="373.5" y="191" width="75.5" height="61.80000000000001" fill="none" stroke="#333" stroke-width="0.8"/>
<line x1="283.5" y1="252.5" x2="283.5" y2="253.8" stroke="#555" stroke-width="0.6" />
<text x="283.5" y="259.7" font-size="4.1" text-anchor="middle" fill="#555">10<tspan font-size="3" dy="-2">0</tspan></text>
<line x1="282.2" y1="252.5" x2="283.5" y2="252.5" stroke="#555" stroke-width="0.6" />
<text transform="translate(281.2,252.5) rotate(-90)" font-size="4.1" text-anchor="middle" fill="#555">10<tspan font-size="3" dy="-2">0</tspan></text>
<line x1="302.375" y1="252.5" x2="302.375" y2="253.8" stroke="#555" stroke-width="0.6" />
<text x="302.375" y="259.7" font-size="4.1" text-anchor="middle" fill="#555">10<tspan font-size="3" dy="-2">1</tspan></text>
<line x1="282.2" y1="237.25" x2="283.5" y2="237.25" stroke="#555" stroke-width="0.6" />
<text transform="translate(281.2,237.25) rotate(-90)" font-size="4.1" text-anchor="middle" fill="#555">10<tspan font-size="3" dy="-2">1</tspan></text>
<line x1="321.25" y1="252.5" x2="321.25" y2="253.8" stroke="#555" stroke-width="0.6" />
<text x="321.25" y="259.7" font-size="4.1" text-anchor="middle" fill="#555">10<tspan font-size="3" dy="-2">2</tspan></text>
<line x1="282.2" y1="222.0" x2="283.5" y2="222.0" stroke="#555" stroke-width="0.6" />
<text transform="translate(281.2,222.0) rotate(-90)" font-size="4.1" text-anchor="middle" fill="#555">10<tspan font-size="3" dy="-2">2</tspan></text>
<line x1="340.125" y1="252.5" x2="340.125" y2="253.8" stroke="#555" stroke-width="0.6" />
<text x="340.125" y="259.7" font-size="4.1" text-anchor="middle" fill="#555">10<tspan font-size="3" dy="-2">3</tspan></text>
<line x1="282.2" y1="206.75" x2="283.5" y2="206.75" stroke="#555" stroke-width="0.6" />
<text transform="translate(281.2,206.75) rotate(-90)" font-size="4.1" text-anchor="middle" fill="#555">10<tspan font-size="3" dy="-2">3</tspan></text>
<line x1="359.0" y1="252.5" x2="359.0" y2="253.8" stroke="#555" stroke-width="0.6" />
<text x="359.0" y="259.7" font-size="4.1" text-anchor="middle" fill="#555">10<tspan font-size="3" dy="-2">4</tspan></text>
<line x1="282.2" y1="191.5" x2="283.5" y2="191.5" stroke="#555" stroke-width="0.6" />
<text transform="translate(281.2,191.5) rotate(-90)" font-size="4.1" text-anchor="middle" fill="#555">10<tspan font-size="3" dy="-2">4</tspan></text>
<line x1="373.5" y1="252.8" x2="373.5" y2="254.10000000000002" stroke="#555" stroke-width="0.6" />
<text x="373.5" y="260.0" font-size="4.1" text-anchor="middle" fill="#555">10<tspan font-size="3" dy="-2">0</tspan></text>
<line x1="372.2" y1="252.8" x2="373.5" y2="252.8" stroke="#555" stroke-width="0.6" />
<text transform="translate(371.2,252.8) rotate(-90)" font-size="4.1" text-anchor="middle" fill="#555">10<tspan font-size="3" dy="-2">0</tspan></text>
<line x1="392.375" y1="252.8" x2="392.375" y2="254.10000000000002" stroke="#555" stroke-width="0.6" />
<text x="392.375" y="260.0" font-size="4.1" text-anchor="middle" fill="#555">10<tspan font-size="3" dy="-2">1</tspan></text>
<line x1="372.2" y1="237.35000000000002" x2="373.5" y2="237.35000000000002" stroke="#555" stroke-width="0.6" />
<text transform="translate(371.2,237.35000000000002) rotate(-90)" font-size="4.1" text-anchor="middle" fill="#555">10<tspan font-size="3" dy="-2">1</tspan></text>
<line x1="411.25" y1="252.8" x2="411.25" y2="254.10000000000002" stroke="#555" stroke-width="0.6" />
<text x="411.25" y="260.0" font-size="4.1" text-anchor="middle" fill="#555">10<tspan font-size="3" dy="-2">2</tspan></text>
<line x1="372.2" y1="221.9" x2="373.5" y2="221.9" stroke="#555" stroke-width="0.6" />
<text transform="translate(371.2,221.9) rotate(-90)" font-size="4.1" text-anchor="middle" fill="#555">10<tspan font-size="3" dy="-2">2</tspan></text>
<line x1="430.125" y1="252.8" x2="430.125" y2="254.10000000000002" stroke="#555" stroke-width="0.6" />
<text x="430.125" y="260.0" font-size="4.1" text-anchor="middle" fill="#555">10<tspan font-size="3" dy="-2">3</tspan></text>
<line x1="372.2" y1="206.45" x2="373.5" y2="206.45" stroke="#555" stroke-width="0.6" />
<text transform="translate(371.2,206.45) rotate(-90)" font-size="4.1" text-anchor="middle" fill="#555">10<tspan font-size="3" dy="-2">3</tspan></text>
<line x1="449.0" y1="252.8" x2="449.0" y2="254.10000000000002" stroke="#555" stroke-width="0.6" />
<text x="449.0" y="260.0" font-size="4.1" text-anchor="middle" fill="#555">10<tspan font-size="3" dy="-2">4</tspan></text>
<line x1="372.2" y1="191.0" x2="373.5" y2="191.0" stroke="#555" stroke-width="0.6" />
<text transform="translate(371.2,191.0) rotate(-90)" font-size="4.1" text-anchor="middle" fill="#555">10<tspan font-size="3" dy="-2">4</tspan></text>
<text x="336.4" y="201.8" font-size="10" text-anchor="start" font-weight="normal" fill="#000" stroke="#000" stroke-width="0.2" >40</text>
<text x="336.9" y="215.2" font-size="10" text-anchor="start" font-weight="normal" fill="#000" stroke="#000" stroke-width="0.2" >%</text>
<text x="432.6" y="200.5" font-size="10.5" text-anchor="start" font-weight="normal" fill="#000" stroke="#000" stroke-width="0.2" >2%</text>
<text x="296.1" y="272.2" font-size="10.5" text-anchor="start" font-weight="normal" fill="#000" stroke="#000" stroke-width="0.2" >CD8-FITC</text>
<text x="391.5" y="271.7" font-size="10.6" text-anchor="start" font-weight="normal" fill="#000" stroke="#000" stroke-width="0.2" >CD4-PE</text>
<text transform="translate(273,262) rotate(-90)" font-size="10.2" text-anchor="start" fill="#000" stroke="#000" stroke-width="0.2">&#945;-hIgG (H+L)-Cy5</text>
</svg></body></html>
